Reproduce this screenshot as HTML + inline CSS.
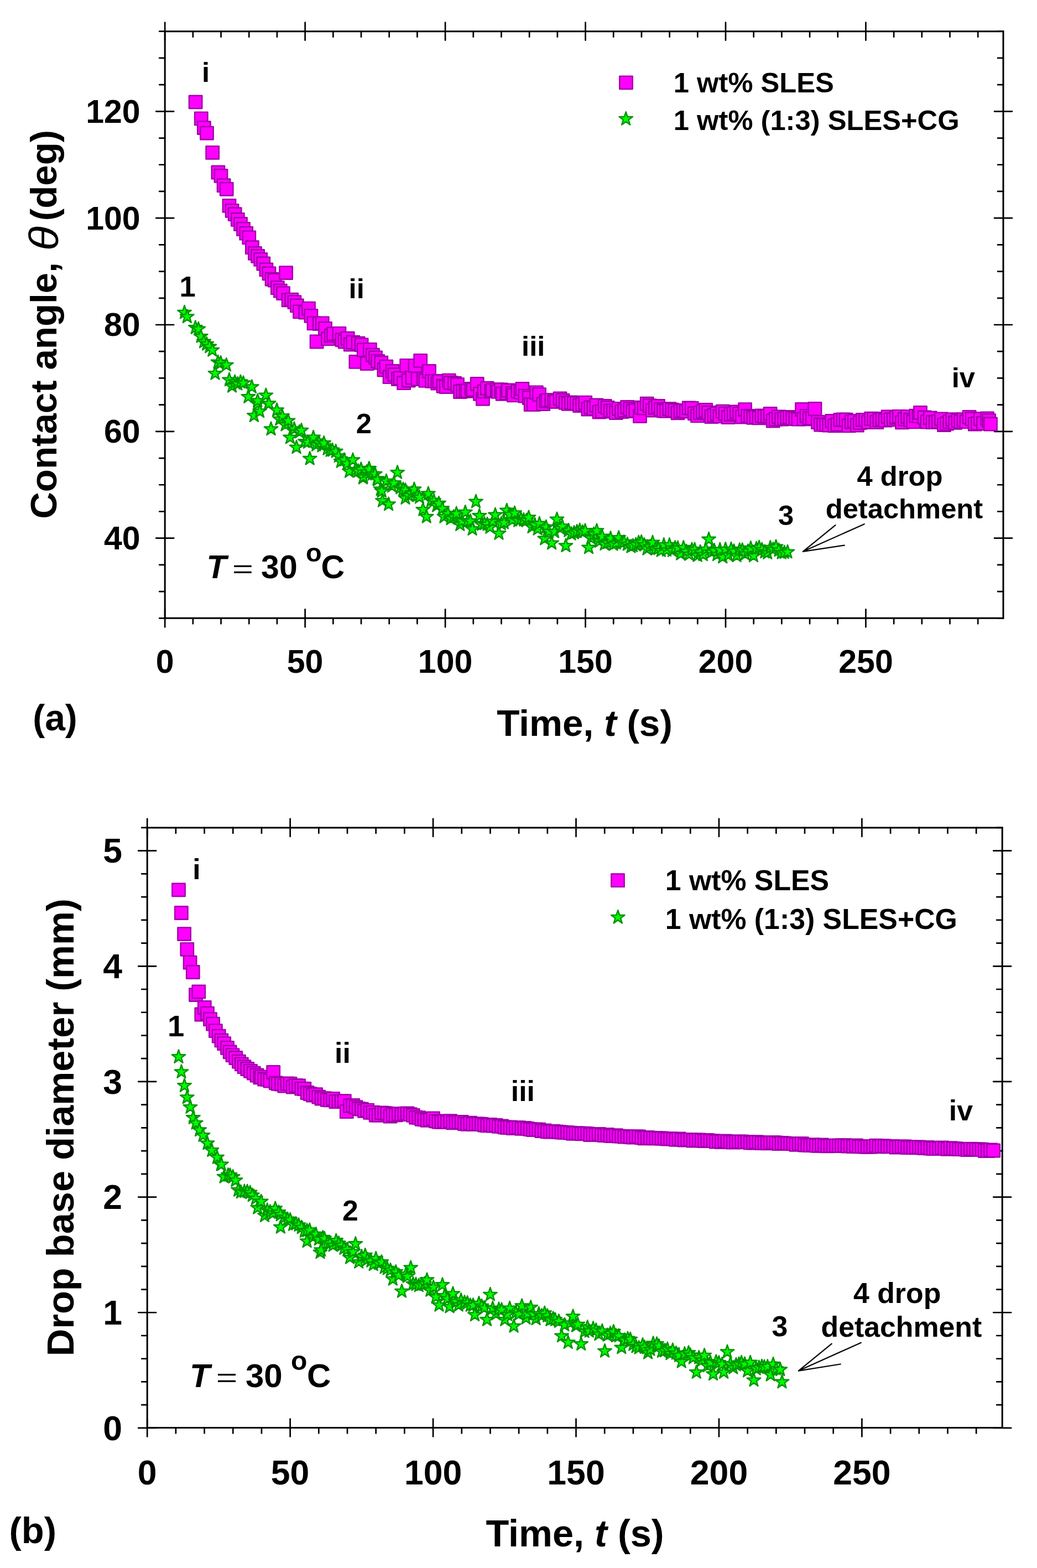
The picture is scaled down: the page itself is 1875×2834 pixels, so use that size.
<!DOCTYPE html>
<html><head><meta charset="utf-8"><title>Contact angle and drop base diameter vs time</title>
<style>html,body{margin:0;padding:0;background:#fff;} svg{display:block;}</style></head>
<body>
<svg width="1875" height="2834" viewBox="0 0 1875 2834">
<rect width="1875" height="2834" fill="#fff"/>
<path d="M298.2,56.7H1814.0V1117.3H298.2Z" fill="none" stroke="#000" stroke-width="3.0" stroke-linejoin="miter"/>
<path d="M348.89,1117.3v10.0M348.89,56.7v10.0M399.58,1117.3v10.0M399.58,56.7v10.0M450.27,1117.3v10.0M450.27,56.7v10.0M500.96,1117.3v10.0M500.96,56.7v10.0M602.34,1117.3v10.0M602.34,56.7v10.0M653.03,1117.3v10.0M653.03,56.7v10.0M703.72,1117.3v10.0M703.72,56.7v10.0M754.41,1117.3v10.0M754.41,56.7v10.0M855.79,1117.3v10.0M855.79,56.7v10.0M906.48,1117.3v10.0M906.48,56.7v10.0M957.17,1117.3v10.0M957.17,56.7v10.0M1007.86,1117.3v10.0M1007.86,56.7v10.0M1109.24,1117.3v10.0M1109.24,56.7v10.0M1159.93,1117.3v10.0M1159.93,56.7v10.0M1210.62,1117.3v10.0M1210.62,56.7v10.0M1261.31,1117.3v10.0M1261.31,56.7v10.0M1362.69,1117.3v10.0M1362.69,56.7v10.0M1413.38,1117.3v10.0M1413.38,56.7v10.0M1464.07,1117.3v10.0M1464.07,56.7v10.0M1514.76,1117.3v10.0M1514.76,56.7v10.0M1616.14,1117.3v10.0M1616.14,56.7v10.0M1666.83,1117.3v10.0M1666.83,56.7v10.0M1717.52,1117.3v10.0M1717.52,56.7v10.0M1768.21,1117.3v10.0M1768.21,56.7v10.0M298.20,1101.3v32.0M298.20,40.7v32.0M551.65,1101.3v32.0M551.65,40.7v32.0M805.10,1101.3v32.0M805.10,40.7v32.0M1058.55,1101.3v32.0M1058.55,40.7v32.0M1312.00,1101.3v32.0M1312.00,40.7v32.0M1565.45,1101.3v32.0M1565.45,40.7v32.0M298.2,1117.32h-10.0M1814.0,1117.32h-10.0M298.2,1069.11h-10.0M1814.0,1069.11h-10.0M298.2,1020.90h-10.0M1814.0,1020.90h-10.0M298.2,924.48h-10.0M1814.0,924.48h-10.0M298.2,876.27h-10.0M1814.0,876.27h-10.0M298.2,828.06h-10.0M1814.0,828.06h-10.0M298.2,731.64h-10.0M1814.0,731.64h-10.0M298.2,683.43h-10.0M1814.0,683.43h-10.0M298.2,635.22h-10.0M1814.0,635.22h-10.0M298.2,538.80h-10.0M1814.0,538.80h-10.0M298.2,490.59h-10.0M1814.0,490.59h-10.0M298.2,442.38h-10.0M1814.0,442.38h-10.0M298.2,345.96h-10.0M1814.0,345.96h-10.0M298.2,297.75h-10.0M1814.0,297.75h-10.0M298.2,249.54h-10.0M1814.0,249.54h-10.0M298.2,153.12h-10.0M1814.0,153.12h-10.0M298.2,104.91h-10.0M1814.0,104.91h-10.0M298.2,56.70h-10.0M1814.0,56.70h-10.0M282.2,972.69h32.0M1798.0,972.69h32.0M282.2,779.85h32.0M1798.0,779.85h32.0M282.2,587.01h32.0M1798.0,587.01h32.0M282.2,394.17h32.0M1798.0,394.17h32.0M282.2,201.33h32.0M1798.0,201.33h32.0" fill="none" stroke="#000" stroke-width="2.7" stroke-linecap="round"/>
<path d="M266.2,1495.9H1812.2V2580.5H266.2Z" fill="none" stroke="#000" stroke-width="3.0" stroke-linejoin="miter"/>
<path d="M317.89,2580.5v10.0M317.89,1495.9v10.0M369.58,2580.5v10.0M369.58,1495.9v10.0M421.26,2580.5v10.0M421.26,1495.9v10.0M472.95,2580.5v10.0M472.95,1495.9v10.0M576.33,2580.5v10.0M576.33,1495.9v10.0M628.02,2580.5v10.0M628.02,1495.9v10.0M679.70,2580.5v10.0M679.70,1495.9v10.0M731.39,2580.5v10.0M731.39,1495.9v10.0M834.77,2580.5v10.0M834.77,1495.9v10.0M886.46,2580.5v10.0M886.46,1495.9v10.0M938.14,2580.5v10.0M938.14,1495.9v10.0M989.83,2580.5v10.0M989.83,1495.9v10.0M1093.21,2580.5v10.0M1093.21,1495.9v10.0M1144.90,2580.5v10.0M1144.90,1495.9v10.0M1196.58,2580.5v10.0M1196.58,1495.9v10.0M1248.27,2580.5v10.0M1248.27,1495.9v10.0M1351.65,2580.5v10.0M1351.65,1495.9v10.0M1403.34,2580.5v10.0M1403.34,1495.9v10.0M1455.02,2580.5v10.0M1455.02,1495.9v10.0M1506.71,2580.5v10.0M1506.71,1495.9v10.0M1610.09,2580.5v10.0M1610.09,1495.9v10.0M1661.78,2580.5v10.0M1661.78,1495.9v10.0M1713.46,2580.5v10.0M1713.46,1495.9v10.0M1765.15,2580.5v10.0M1765.15,1495.9v10.0M266.20,2564.5v32.0M266.20,1479.9v32.0M524.64,2564.5v32.0M524.64,1479.9v32.0M783.08,2564.5v32.0M783.08,1479.9v32.0M1041.52,2564.5v32.0M1041.52,1479.9v32.0M1299.96,2564.5v32.0M1299.96,1479.9v32.0M1558.40,2564.5v32.0M1558.40,1479.9v32.0M266.2,2539.20h-10.0M1812.2,2539.20h-10.0M266.2,2497.47h-10.0M1812.2,2497.47h-10.0M266.2,2455.74h-10.0M1812.2,2455.74h-10.0M266.2,2414.00h-10.0M1812.2,2414.00h-10.0M266.2,2330.54h-10.0M1812.2,2330.54h-10.0M266.2,2288.81h-10.0M1812.2,2288.81h-10.0M266.2,2247.08h-10.0M1812.2,2247.08h-10.0M266.2,2205.34h-10.0M1812.2,2205.34h-10.0M266.2,2121.88h-10.0M1812.2,2121.88h-10.0M266.2,2080.15h-10.0M1812.2,2080.15h-10.0M266.2,2038.42h-10.0M1812.2,2038.42h-10.0M266.2,1996.68h-10.0M1812.2,1996.68h-10.0M266.2,1913.22h-10.0M1812.2,1913.22h-10.0M266.2,1871.49h-10.0M1812.2,1871.49h-10.0M266.2,1829.76h-10.0M1812.2,1829.76h-10.0M266.2,1788.02h-10.0M1812.2,1788.02h-10.0M266.2,1704.56h-10.0M1812.2,1704.56h-10.0M266.2,1662.83h-10.0M1812.2,1662.83h-10.0M266.2,1621.10h-10.0M1812.2,1621.10h-10.0M266.2,1579.36h-10.0M1812.2,1579.36h-10.0M266.2,1495.90h-10.0M1812.2,1495.90h-10.0M250.2,2580.93h32.0M1796.2,2580.93h32.0M250.2,2372.27h32.0M1796.2,2372.27h32.0M250.2,2163.61h32.0M1796.2,2163.61h32.0M250.2,1954.95h32.0M1796.2,1954.95h32.0M250.2,1746.29h32.0M1796.2,1746.29h32.0M250.2,1537.63h32.0M1796.2,1537.63h32.0" fill="none" stroke="#000" stroke-width="2.7" stroke-linecap="round"/>
<g font-family="'Liberation Sans', Arial, sans-serif" font-weight="bold" fill="#000">
<text x="298.2" y="1216.3" font-size="59" text-anchor="middle">0</text>
<text x="551.6" y="1216.3" font-size="59" text-anchor="middle">50</text>
<text x="805.1" y="1216.3" font-size="59" text-anchor="middle">100</text>
<text x="1058.5" y="1216.3" font-size="59" text-anchor="middle">150</text>
<text x="1312.0" y="1216.3" font-size="59" text-anchor="middle">200</text>
<text x="1565.5" y="1216.3" font-size="59" text-anchor="middle">250</text>
<text x="253.6" y="993.1" font-size="59" text-anchor="end">40</text>
<text x="253.6" y="800.2" font-size="59" text-anchor="end">60</text>
<text x="253.6" y="607.4" font-size="59" text-anchor="end">80</text>
<text x="253.6" y="414.6" font-size="59" text-anchor="end">100</text>
<text x="253.6" y="221.7" font-size="59" text-anchor="end">120</text>
<text x="266.2" y="2682.6" font-size="62.5" text-anchor="middle">0</text>
<text x="524.6" y="2682.6" font-size="62.5" text-anchor="middle">50</text>
<text x="783.1" y="2682.6" font-size="62.5" text-anchor="middle">100</text>
<text x="1041.5" y="2682.6" font-size="62.5" text-anchor="middle">150</text>
<text x="1300.0" y="2682.6" font-size="62.5" text-anchor="middle">200</text>
<text x="1558.4" y="2682.6" font-size="62.5" text-anchor="middle">250</text>
<text x="220.9" y="2602.7" font-size="62.5" text-anchor="end">0</text>
<text x="220.9" y="2394.1" font-size="62.5" text-anchor="end">1</text>
<text x="220.9" y="2185.4" font-size="62.5" text-anchor="end">2</text>
<text x="220.9" y="1976.8" font-size="62.5" text-anchor="end">3</text>
<text x="220.9" y="1768.1" font-size="62.5" text-anchor="end">4</text>
<text x="220.9" y="1559.4" font-size="62.5" text-anchor="end">5</text>
<text x="364.9" y="148.3" font-size="50.7">i</text>
<text x="630.6" y="539.0" font-size="50.7">ii</text>
<text x="943.1" y="642.7" font-size="50.7">iii</text>
<text x="1720.7" y="699.8" font-size="50.7">iv</text>
<text x="324.4" y="535.9" font-size="52.6">1</text>
<text x="643.7" y="782.8" font-size="50.7">2</text>
<text x="1407.0" y="949.0" font-size="50.7">3</text>
<text x="1549.6" y="877.6" font-size="50.7">4 drop</text>
<text x="1492.7" y="936.5" font-size="50.7">detachment</text>
<text x="1217.8" y="166.9" font-size="50.7">1 wt% SLES</text>
<text x="1217.8" y="234.7" font-size="50.7">1 wt% (1:3) SLES+CG</text>
<text x="59.2" y="1320.0" font-size="66">(a)</text>
<text x="898.3" y="1329.7" font-size="67.5">Time, <tspan font-style="italic">t</tspan> (s)</text>
<text transform="translate(102,937.8) rotate(-90)" font-size="67.3">Contact angle,</text>
<text transform="translate(104.7,453.3) rotate(-90) scale(1.1,1)" font-size="74" font-style="italic" font-weight="normal">θ</text>
<text transform="translate(102,399.2) rotate(-90)" font-size="67.3">(deg)</text>
<text x="373.5" y="1045" font-size="59" font-style="italic">T</text>
<text transform="translate(419.9,1044.1) scale(0.65,0.44)" font-size="100" font-weight="normal">=</text>
<text x="472.1" y="1045.3" font-size="59">30</text>
<text x="552.9" y="1015.3" font-size="47">o</text>
<text x="580.5" y="1044.6" font-size="59">C</text>
<text x="348.3" y="1588.8" font-size="51.8">i</text>
<text x="302.9" y="1872.7" font-size="54.5">1</text>
<text x="605.1" y="1921.0" font-size="51.8">ii</text>
<text x="619.0" y="2205.8" font-size="51.8">2</text>
<text x="923.8" y="1990.0" font-size="51.8">iii</text>
<text x="1715.8" y="2025.3" font-size="51.8">iv</text>
<text x="1395.6" y="2415.2" font-size="51.8">3</text>
<text x="1543.0" y="2354.9" font-size="51.8">4 drop</text>
<text x="1484.5" y="2415.7" font-size="51.8">detachment</text>
<text x="1202.7" y="1609.4" font-size="51.8">1 wt% SLES</text>
<text x="1202.7" y="1678.8" font-size="51.8">1 wt% (1:3) SLES+CG</text>
<text x="16.5" y="2789.4" font-size="67">(b)</text>
<text x="878.4" y="2794.6" font-size="68.5">Time, <tspan font-style="italic">t</tspan> (s)</text>
<text transform="translate(133.1,2451.3) rotate(-90)" font-size="68.6">Drop base diameter (mm)</text>
<text x="343.0" y="2506.6" font-size="60" font-style="italic">T</text>
<text transform="translate(390.8,2506.0) scale(0.66,0.47)" font-size="100" font-weight="normal">=</text>
<text x="444.0" y="2506.8" font-size="60">30</text>
<text x="526.1" y="2476.2" font-size="48">o</text>
<text x="554.9" y="2506.5" font-size="60">C</text>
</g>
<path d="M1451.8,996.8L1510.5,949.1M1451.8,996.8L1562.7,947.2M1451.8,996.8L1526.8,985.6" stroke="#000" stroke-width="2.2" fill="none" stroke-linecap="round"/>
<path d="M1443.8,2477.6L1503.8,2428.6M1443.8,2477.6L1556.8,2426.7M1443.8,2477.6L1519.8,2465.5" stroke="#000" stroke-width="2.2" fill="none" stroke-linecap="round"/>
<g fill="#ff00ff" stroke="#a000aa" stroke-width="2.4" stroke-linejoin="round">
<rect x="1120.3" y="137.6" width="23.4" height="23.4"/>
<rect x="1105.3" y="1579.5" width="23.4" height="23.4"/>
</g>
<g fill="#00ff00" stroke="#009600" stroke-width="2.5" stroke-linejoin="round">
<polygon points="1131.7,202.3 1134.6,211.1 1143.9,211.1 1136.4,216.6 1139.2,225.5 1131.7,220.0 1124.2,225.5 1127.0,216.6 1119.5,211.1 1128.8,211.1"/>
<polygon points="1117.3,1645.2 1120.2,1654.0 1129.5,1654.0 1122.0,1659.5 1124.8,1668.4 1117.3,1662.9 1109.8,1668.4 1112.6,1659.5 1105.1,1654.0 1114.4,1654.0"/>
</g>
<g fill="#ff00ff" stroke="#a000aa" stroke-width="2.4" stroke-linejoin="round">
<rect x="341.9" y="172.7" width="23.4" height="23.4"/>
<rect x="352.1" y="202.6" width="23.4" height="23.4"/>
<rect x="357.2" y="219.4" width="23.4" height="23.4"/>
<rect x="362.3" y="228.9" width="23.4" height="23.4"/>
<rect x="372.5" y="264.1" width="23.4" height="23.4"/>
<rect x="382.7" y="299.8" width="23.4" height="23.4"/>
<rect x="387.8" y="306.2" width="23.4" height="23.4"/>
<rect x="392.9" y="323.5" width="23.4" height="23.4"/>
<rect x="398.0" y="330.1" width="23.4" height="23.4"/>
<rect x="402.8" y="360.2" width="23.4" height="23.4"/>
<rect x="407.9" y="369.2" width="23.4" height="23.4"/>
<rect x="413.0" y="375.5" width="23.4" height="23.4"/>
<rect x="418.1" y="385.2" width="23.4" height="23.4"/>
<rect x="423.3" y="393.3" width="23.4" height="23.4"/>
<rect x="428.3" y="402.3" width="23.4" height="23.4"/>
<rect x="433.5" y="410.0" width="23.4" height="23.4"/>
<rect x="438.6" y="417.6" width="23.4" height="23.4"/>
<rect x="444.2" y="435.5" width="23.4" height="23.4"/>
<rect x="449.3" y="446.1" width="23.4" height="23.4"/>
<rect x="454.4" y="451.2" width="23.4" height="23.4"/>
<rect x="459.5" y="457.2" width="23.4" height="23.4"/>
<rect x="464.6" y="464.8" width="23.4" height="23.4"/>
<rect x="469.7" y="475.7" width="23.4" height="23.4"/>
<rect x="474.8" y="482.7" width="23.4" height="23.4"/>
<rect x="479.9" y="492.9" width="23.4" height="23.4"/>
<rect x="485.0" y="494.9" width="23.4" height="23.4"/>
<rect x="490.1" y="508.3" width="23.4" height="23.4"/>
<rect x="495.2" y="514.0" width="23.4" height="23.4"/>
<rect x="500.3" y="518.4" width="23.4" height="23.4"/>
<rect x="505.4" y="481.4" width="23.4" height="23.4"/>
<rect x="509.9" y="530.6" width="23.4" height="23.4"/>
<rect x="515.6" y="529.9" width="23.4" height="23.4"/>
<rect x="520.7" y="534.4" width="23.4" height="23.4"/>
<rect x="525.2" y="540.7" width="23.4" height="23.4"/>
<rect x="530.3" y="551.6" width="23.4" height="23.4"/>
<rect x="540.5" y="552.8" width="23.4" height="23.4"/>
<rect x="546.3" y="545.9" width="23.4" height="23.4"/>
<rect x="550.7" y="559.2" width="23.4" height="23.4"/>
<rect x="555.8" y="572.6" width="23.4" height="23.4"/>
<rect x="560.9" y="605.8" width="23.4" height="23.4"/>
<rect x="566.0" y="573.3" width="23.4" height="23.4"/>
<rect x="571.1" y="572.6" width="23.4" height="23.4"/>
<rect x="576.3" y="582.2" width="23.4" height="23.4"/>
<rect x="581.3" y="600.7" width="23.4" height="23.4"/>
<rect x="587.1" y="595.0" width="23.4" height="23.4"/>
<rect x="591.5" y="591.8" width="23.4" height="23.4"/>
<rect x="601.7" y="591.1" width="23.4" height="23.4"/>
<rect x="606.8" y="602.6" width="23.4" height="23.4"/>
<rect x="611.9" y="605.8" width="23.4" height="23.4"/>
<rect x="617.0" y="600.0" width="23.4" height="23.4"/>
<rect x="622.1" y="610.8" width="23.4" height="23.4"/>
<rect x="626.6" y="607.0" width="23.4" height="23.4"/>
<rect x="631.7" y="642.2" width="23.4" height="23.4"/>
<rect x="635.9" y="608.9" width="23.4" height="23.4"/>
<rect x="641.9" y="611.6" width="23.4" height="23.4"/>
<rect x="646.0" y="620.8" width="23.4" height="23.4"/>
<rect x="652.1" y="645.3" width="23.4" height="23.4"/>
<rect x="657.2" y="620.3" width="23.4" height="23.4"/>
<rect x="662.3" y="630.0" width="23.4" height="23.4"/>
<rect x="667.3" y="634.6" width="23.4" height="23.4"/>
<rect x="671.4" y="641.1" width="23.4" height="23.4"/>
<rect x="677.6" y="644.0" width="23.4" height="23.4"/>
<rect x="682.7" y="656.8" width="23.4" height="23.4"/>
<rect x="686.6" y="651.0" width="23.4" height="23.4"/>
<rect x="692.9" y="669.5" width="23.4" height="23.4"/>
<rect x="698.0" y="659.3" width="23.4" height="23.4"/>
<rect x="701.8" y="665.5" width="23.4" height="23.4"/>
<rect x="708.2" y="673.3" width="23.4" height="23.4"/>
<rect x="711.9" y="671.8" width="23.4" height="23.4"/>
<rect x="718.4" y="680.5" width="23.4" height="23.4"/>
<rect x="723.5" y="649.1" width="23.4" height="23.4"/>
<rect x="727.1" y="675.9" width="23.4" height="23.4"/>
<rect x="733.8" y="670.8" width="23.4" height="23.4"/>
<rect x="738.8" y="649.1" width="23.4" height="23.4"/>
<rect x="743.9" y="673.3" width="23.4" height="23.4"/>
<rect x="748.5" y="640.2" width="23.4" height="23.4"/>
<rect x="754.1" y="673.3" width="23.4" height="23.4"/>
<rect x="757.6" y="676.2" width="23.4" height="23.4"/>
<rect x="764.3" y="659.3" width="23.4" height="23.4"/>
<rect x="769.4" y="677.2" width="23.4" height="23.4"/>
<rect x="774.5" y="677.2" width="23.4" height="23.4"/>
<rect x="779.6" y="681.0" width="23.4" height="23.4"/>
<rect x="782.9" y="677.5" width="23.4" height="23.4"/>
<rect x="789.8" y="686.1" width="23.4" height="23.4"/>
<rect x="794.9" y="687.3" width="23.4" height="23.4"/>
<rect x="800.0" y="675.9" width="23.4" height="23.4"/>
<rect x="803.2" y="680.2" width="23.4" height="23.4"/>
<rect x="810.3" y="681.0" width="23.4" height="23.4"/>
<rect x="815.3" y="683.5" width="23.4" height="23.4"/>
<rect x="820.4" y="696.3" width="23.4" height="23.4"/>
<rect x="825.5" y="695.0" width="23.4" height="23.4"/>
<rect x="830.6" y="695.0" width="23.4" height="23.4"/>
<rect x="833.6" y="694.9" width="23.4" height="23.4"/>
<rect x="840.8" y="691.2" width="23.4" height="23.4"/>
<rect x="843.7" y="692.5" width="23.4" height="23.4"/>
<rect x="851.0" y="682.3" width="23.4" height="23.4"/>
<rect x="856.2" y="700.1" width="23.4" height="23.4"/>
<rect x="861.3" y="709.1" width="23.4" height="23.4"/>
<rect x="864.0" y="695.7" width="23.4" height="23.4"/>
<rect x="869.1" y="690.0" width="23.4" height="23.4"/>
<rect x="876.6" y="695.0" width="23.4" height="23.4"/>
<rect x="879.2" y="693.6" width="23.4" height="23.4"/>
<rect x="886.8" y="692.5" width="23.4" height="23.4"/>
<rect x="889.4" y="696.1" width="23.4" height="23.4"/>
<rect x="894.4" y="692.6" width="23.4" height="23.4"/>
<rect x="897.0" y="700.1" width="23.4" height="23.4"/>
<rect x="904.6" y="698.9" width="23.4" height="23.4"/>
<rect x="907.2" y="693.8" width="23.4" height="23.4"/>
<rect x="914.7" y="699.2" width="23.4" height="23.4"/>
<rect x="917.3" y="702.7" width="23.4" height="23.4"/>
<rect x="924.8" y="695.2" width="23.4" height="23.4"/>
<rect x="929.9" y="697.2" width="23.4" height="23.4"/>
<rect x="932.7" y="691.2" width="23.4" height="23.4"/>
<rect x="937.8" y="704.0" width="23.4" height="23.4"/>
<rect x="945.1" y="707.4" width="23.4" height="23.4"/>
<rect x="948.0" y="719.3" width="23.4" height="23.4"/>
<rect x="953.1" y="719.3" width="23.4" height="23.4"/>
<rect x="958.2" y="697.6" width="23.4" height="23.4"/>
<rect x="963.3" y="701.4" width="23.4" height="23.4"/>
<rect x="970.5" y="718.4" width="23.4" height="23.4"/>
<rect x="975.5" y="713.2" width="23.4" height="23.4"/>
<rect x="978.6" y="711.6" width="23.4" height="23.4"/>
<rect x="985.7" y="711.4" width="23.4" height="23.4"/>
<rect x="990.7" y="714.2" width="23.4" height="23.4"/>
<rect x="994.0" y="714.1" width="23.4" height="23.4"/>
<rect x="1000.9" y="708.7" width="23.4" height="23.4"/>
<rect x="1005.9" y="712.0" width="23.4" height="23.4"/>
<rect x="1011.0" y="716.2" width="23.4" height="23.4"/>
<rect x="1016.1" y="718.2" width="23.4" height="23.4"/>
<rect x="1021.1" y="715.7" width="23.4" height="23.4"/>
<rect x="1026.2" y="716.8" width="23.4" height="23.4"/>
<rect x="1031.3" y="717.5" width="23.4" height="23.4"/>
<rect x="1036.4" y="721.3" width="23.4" height="23.4"/>
<rect x="1041.4" y="719.3" width="23.4" height="23.4"/>
<rect x="1046.5" y="716.0" width="23.4" height="23.4"/>
<rect x="1051.6" y="727.8" width="23.4" height="23.4"/>
<rect x="1056.6" y="724.4" width="23.4" height="23.4"/>
<rect x="1061.7" y="726.4" width="23.4" height="23.4"/>
<rect x="1066.8" y="720.8" width="23.4" height="23.4"/>
<rect x="1071.8" y="732.9" width="23.4" height="23.4"/>
<rect x="1076.9" y="731.8" width="23.4" height="23.4"/>
<rect x="1082.0" y="722.1" width="23.4" height="23.4"/>
<rect x="1087.0" y="725.2" width="23.4" height="23.4"/>
<rect x="1092.1" y="730.9" width="23.4" height="23.4"/>
<rect x="1097.2" y="730.9" width="23.4" height="23.4"/>
<rect x="1102.2" y="734.3" width="23.4" height="23.4"/>
<rect x="1107.3" y="727.1" width="23.4" height="23.4"/>
<rect x="1112.4" y="732.4" width="23.4" height="23.4"/>
<rect x="1117.5" y="729.7" width="23.4" height="23.4"/>
<rect x="1122.5" y="724.2" width="23.4" height="23.4"/>
<rect x="1127.6" y="727.8" width="23.4" height="23.4"/>
<rect x="1132.7" y="731.5" width="23.4" height="23.4"/>
<rect x="1137.7" y="730.6" width="23.4" height="23.4"/>
<rect x="1145.3" y="740.3" width="23.4" height="23.4"/>
<rect x="1147.9" y="725.0" width="23.4" height="23.4"/>
<rect x="1152.9" y="725.8" width="23.4" height="23.4"/>
<rect x="1158.0" y="718.0" width="23.4" height="23.4"/>
<rect x="1163.1" y="721.5" width="23.4" height="23.4"/>
<rect x="1168.1" y="729.8" width="23.4" height="23.4"/>
<rect x="1173.2" y="725.1" width="23.4" height="23.4"/>
<rect x="1178.3" y="722.3" width="23.4" height="23.4"/>
<rect x="1183.4" y="728.1" width="23.4" height="23.4"/>
<rect x="1188.4" y="730.8" width="23.4" height="23.4"/>
<rect x="1193.5" y="731.0" width="23.4" height="23.4"/>
<rect x="1198.6" y="727.4" width="23.4" height="23.4"/>
<rect x="1203.6" y="728.9" width="23.4" height="23.4"/>
<rect x="1208.7" y="730.4" width="23.4" height="23.4"/>
<rect x="1213.8" y="734.6" width="23.4" height="23.4"/>
<rect x="1218.8" y="731.4" width="23.4" height="23.4"/>
<rect x="1223.9" y="730.1" width="23.4" height="23.4"/>
<rect x="1229.0" y="731.8" width="23.4" height="23.4"/>
<rect x="1234.0" y="725.7" width="23.4" height="23.4"/>
<rect x="1239.1" y="726.1" width="23.4" height="23.4"/>
<rect x="1244.2" y="735.6" width="23.4" height="23.4"/>
<rect x="1249.3" y="739.7" width="23.4" height="23.4"/>
<rect x="1254.3" y="734.4" width="23.4" height="23.4"/>
<rect x="1259.4" y="731.9" width="23.4" height="23.4"/>
<rect x="1264.5" y="729.2" width="23.4" height="23.4"/>
<rect x="1269.5" y="734.2" width="23.4" height="23.4"/>
<rect x="1274.6" y="741.3" width="23.4" height="23.4"/>
<rect x="1279.7" y="738.7" width="23.4" height="23.4"/>
<rect x="1284.7" y="735.9" width="23.4" height="23.4"/>
<rect x="1289.8" y="740.6" width="23.4" height="23.4"/>
<rect x="1294.9" y="732.0" width="23.4" height="23.4"/>
<rect x="1299.9" y="736.1" width="23.4" height="23.4"/>
<rect x="1305.0" y="742.4" width="23.4" height="23.4"/>
<rect x="1310.1" y="737.4" width="23.4" height="23.4"/>
<rect x="1315.1" y="735.5" width="23.4" height="23.4"/>
<rect x="1320.2" y="732.7" width="23.4" height="23.4"/>
<rect x="1325.3" y="736.4" width="23.4" height="23.4"/>
<rect x="1330.4" y="741.9" width="23.4" height="23.4"/>
<rect x="1335.4" y="728.4" width="23.4" height="23.4"/>
<rect x="1340.5" y="740.1" width="23.4" height="23.4"/>
<rect x="1345.6" y="741.4" width="23.4" height="23.4"/>
<rect x="1350.6" y="743.2" width="23.4" height="23.4"/>
<rect x="1355.7" y="741.9" width="23.4" height="23.4"/>
<rect x="1360.8" y="743.6" width="23.4" height="23.4"/>
<rect x="1365.8" y="739.6" width="23.4" height="23.4"/>
<rect x="1370.9" y="740.8" width="23.4" height="23.4"/>
<rect x="1376.0" y="740.1" width="23.4" height="23.4"/>
<rect x="1381.0" y="736.2" width="23.4" height="23.4"/>
<rect x="1386.1" y="748.8" width="23.4" height="23.4"/>
<rect x="1391.2" y="745.8" width="23.4" height="23.4"/>
<rect x="1396.3" y="741.8" width="23.4" height="23.4"/>
<rect x="1401.3" y="745.9" width="23.4" height="23.4"/>
<rect x="1406.4" y="745.1" width="23.4" height="23.4"/>
<rect x="1411.5" y="742.8" width="23.4" height="23.4"/>
<rect x="1416.5" y="742.1" width="23.4" height="23.4"/>
<rect x="1421.6" y="744.2" width="23.4" height="23.4"/>
<rect x="1426.7" y="745.3" width="23.4" height="23.4"/>
<rect x="1431.7" y="746.0" width="23.4" height="23.4"/>
<rect x="1438.3" y="728.3" width="23.4" height="23.4"/>
<rect x="1441.9" y="745.6" width="23.4" height="23.4"/>
<rect x="1446.9" y="740.4" width="23.4" height="23.4"/>
<rect x="1452.0" y="744.1" width="23.4" height="23.4"/>
<rect x="1457.1" y="744.2" width="23.4" height="23.4"/>
<rect x="1461.8" y="727.3" width="23.4" height="23.4"/>
<rect x="1467.2" y="751.3" width="23.4" height="23.4"/>
<rect x="1472.3" y="755.8" width="23.4" height="23.4"/>
<rect x="1477.4" y="755.7" width="23.4" height="23.4"/>
<rect x="1482.4" y="756.3" width="23.4" height="23.4"/>
<rect x="1487.5" y="756.9" width="23.4" height="23.4"/>
<rect x="1492.6" y="749.2" width="23.4" height="23.4"/>
<rect x="1497.6" y="757.6" width="23.4" height="23.4"/>
<rect x="1502.7" y="755.4" width="23.4" height="23.4"/>
<rect x="1507.8" y="747.3" width="23.4" height="23.4"/>
<rect x="1512.8" y="746.6" width="23.4" height="23.4"/>
<rect x="1517.9" y="747.0" width="23.4" height="23.4"/>
<rect x="1523.0" y="757.7" width="23.4" height="23.4"/>
<rect x="1528.0" y="750.9" width="23.4" height="23.4"/>
<rect x="1533.1" y="749.3" width="23.4" height="23.4"/>
<rect x="1538.2" y="756.9" width="23.4" height="23.4"/>
<rect x="1543.3" y="752.4" width="23.4" height="23.4"/>
<rect x="1548.3" y="747.3" width="23.4" height="23.4"/>
<rect x="1553.4" y="747.4" width="23.4" height="23.4"/>
<rect x="1558.5" y="751.3" width="23.4" height="23.4"/>
<rect x="1563.5" y="745.0" width="23.4" height="23.4"/>
<rect x="1568.6" y="745.3" width="23.4" height="23.4"/>
<rect x="1573.7" y="751.3" width="23.4" height="23.4"/>
<rect x="1578.7" y="747.7" width="23.4" height="23.4"/>
<rect x="1583.8" y="745.8" width="23.4" height="23.4"/>
<rect x="1588.9" y="747.9" width="23.4" height="23.4"/>
<rect x="1593.9" y="741.6" width="23.4" height="23.4"/>
<rect x="1599.0" y="746.6" width="23.4" height="23.4"/>
<rect x="1604.1" y="746.6" width="23.4" height="23.4"/>
<rect x="1609.1" y="742.8" width="23.4" height="23.4"/>
<rect x="1614.2" y="741.1" width="23.4" height="23.4"/>
<rect x="1619.3" y="751.6" width="23.4" height="23.4"/>
<rect x="1624.4" y="745.6" width="23.4" height="23.4"/>
<rect x="1629.4" y="741.4" width="23.4" height="23.4"/>
<rect x="1634.5" y="747.3" width="23.4" height="23.4"/>
<rect x="1639.6" y="750.7" width="23.4" height="23.4"/>
<rect x="1644.6" y="739.9" width="23.4" height="23.4"/>
<rect x="1649.7" y="740.2" width="23.4" height="23.4"/>
<rect x="1652.3" y="734.3" width="23.4" height="23.4"/>
<rect x="1659.8" y="742.7" width="23.4" height="23.4"/>
<rect x="1664.9" y="751.0" width="23.4" height="23.4"/>
<rect x="1670.0" y="743.6" width="23.4" height="23.4"/>
<rect x="1675.0" y="751.5" width="23.4" height="23.4"/>
<rect x="1680.1" y="751.5" width="23.4" height="23.4"/>
<rect x="1685.2" y="750.0" width="23.4" height="23.4"/>
<rect x="1690.3" y="745.6" width="23.4" height="23.4"/>
<rect x="1695.3" y="756.4" width="23.4" height="23.4"/>
<rect x="1700.4" y="754.0" width="23.4" height="23.4"/>
<rect x="1705.5" y="750.3" width="23.4" height="23.4"/>
<rect x="1710.5" y="746.4" width="23.4" height="23.4"/>
<rect x="1715.6" y="752.2" width="23.4" height="23.4"/>
<rect x="1720.7" y="748.3" width="23.4" height="23.4"/>
<rect x="1725.7" y="750.4" width="23.4" height="23.4"/>
<rect x="1730.8" y="746.5" width="23.4" height="23.4"/>
<rect x="1735.9" y="750.5" width="23.4" height="23.4"/>
<rect x="1740.9" y="742.1" width="23.4" height="23.4"/>
<rect x="1746.0" y="745.5" width="23.4" height="23.4"/>
<rect x="1751.1" y="754.9" width="23.4" height="23.4"/>
<rect x="1756.2" y="753.6" width="23.4" height="23.4"/>
<rect x="1761.2" y="745.6" width="23.4" height="23.4"/>
<rect x="1766.3" y="753.3" width="23.4" height="23.4"/>
<rect x="1773.3" y="744.8" width="23.4" height="23.4"/>
<rect x="1776.4" y="748.4" width="23.4" height="23.4"/>
<rect x="1779.3" y="754.8" width="23.4" height="23.4"/>
</g>
<g fill="#00ff00" stroke="#009600" stroke-width="2.5" stroke-linejoin="round">
<polygon points="333.5,552.1 336.4,560.9 345.7,560.9 338.2,566.4 341.0,575.3 333.5,569.8 326.0,575.3 328.8,566.4 321.3,560.9 330.6,560.9"/>
<polygon points="338.3,559.7 341.2,568.5 350.5,568.5 343.0,574.0 345.8,582.9 338.3,577.4 330.8,582.9 333.6,574.0 326.1,568.5 335.4,568.5"/>
<polygon points="353.3,579.5 356.2,588.3 365.5,588.3 358.0,593.8 360.8,602.7 353.3,597.2 345.8,602.7 348.6,593.8 341.1,588.3 350.4,588.3"/>
<polygon points="358.8,582.0 361.7,590.8 371.0,590.8 363.5,596.3 366.3,605.2 358.8,599.7 351.3,605.2 354.1,596.3 346.6,590.8 355.9,590.8"/>
<polygon points="363.2,595.4 366.1,604.2 375.4,604.2 367.9,609.7 370.7,618.6 363.2,613.1 355.7,618.6 358.5,609.7 351.0,604.2 360.3,604.2"/>
<polygon points="368.6,605.0 371.5,613.8 380.8,613.8 373.3,619.3 376.1,628.2 368.6,622.7 361.1,628.2 363.9,619.3 356.4,613.8 365.7,613.8"/>
<polygon points="373.7,609.2 376.6,618.0 385.9,618.0 378.4,623.5 381.2,632.4 373.7,626.9 366.2,632.4 369.0,623.5 361.5,618.0 370.8,618.0"/>
<polygon points="378.8,613.9 381.7,622.7 391.0,622.7 383.5,628.2 386.3,637.1 378.8,631.6 371.3,637.1 374.1,628.2 366.6,622.7 375.9,622.7"/>
<polygon points="383.9,620.3 386.8,629.1 396.1,629.1 388.6,634.6 391.4,643.5 383.9,638.0 376.4,643.5 379.2,634.6 371.7,629.1 381.0,629.1"/>
<polygon points="389.0,662.4 391.9,671.2 401.2,671.2 393.7,676.7 396.5,685.6 389.0,680.1 381.5,685.6 384.3,676.7 376.8,671.2 386.1,671.2"/>
<polygon points="394.1,642.0 397.0,650.8 406.3,650.8 398.8,656.3 401.6,665.2 394.1,659.7 386.6,665.2 389.4,656.3 381.9,650.8 391.2,650.8"/>
<polygon points="399.2,643.3 402.1,652.1 411.4,652.1 403.9,657.6 406.7,666.5 399.2,661.0 391.7,666.5 394.5,657.6 387.0,652.1 396.3,652.1"/>
<polygon points="409.4,647.1 412.3,655.9 421.6,655.9 414.1,661.4 416.9,670.3 409.4,664.8 401.9,670.3 404.7,661.4 397.2,655.9 406.5,655.9"/>
<polygon points="414.5,673.9 417.4,682.7 426.7,682.7 419.2,688.2 422.0,697.1 414.5,691.6 407.0,697.1 409.8,688.2 402.3,682.7 411.6,682.7"/>
<polygon points="419.6,685.2 422.5,694.0 431.8,694.0 424.3,699.5 427.1,708.4 419.6,702.9 412.1,708.4 414.9,699.5 407.4,694.0 416.7,694.0"/>
<polygon points="424.7,677.7 427.6,686.5 436.9,686.5 429.4,692.0 432.2,700.9 424.7,695.4 417.2,700.9 420.0,692.0 412.5,686.5 421.8,686.5"/>
<polygon points="429.8,681.2 432.7,690.0 442.0,690.0 434.5,695.5 437.3,704.4 429.8,698.9 422.3,704.4 425.1,695.5 417.6,690.0 426.9,690.0"/>
<polygon points="434.9,677.7 437.8,686.5 447.1,686.5 439.6,692.0 442.4,700.9 434.9,695.4 427.4,700.9 430.2,692.0 422.7,686.5 432.0,686.5"/>
<polygon points="440.0,679.6 442.9,688.4 452.2,688.4 444.7,693.9 447.5,702.8 440.0,697.3 432.5,702.8 435.3,693.9 427.8,688.4 437.1,688.4"/>
<polygon points="448.9,704.5 451.8,713.3 461.1,713.3 453.6,718.8 456.4,727.7 448.9,722.2 441.4,727.7 444.2,718.8 436.7,713.3 446.0,713.3"/>
<polygon points="455.3,686.6 458.2,695.4 467.5,695.4 460.0,700.9 462.8,709.8 455.3,704.3 447.8,709.8 450.6,700.9 443.1,695.4 452.4,695.4"/>
<polygon points="459.4,738.5 462.3,747.3 471.6,747.3 464.1,752.8 466.9,761.7 459.4,756.2 451.9,761.7 454.7,752.8 447.2,747.3 456.5,747.3"/>
<polygon points="465.5,717.2 468.4,726.0 477.7,726.0 470.2,731.5 473.0,740.4 465.5,734.9 458.0,740.4 460.8,731.5 453.3,726.0 462.6,726.0"/>
<polygon points="465.8,711.7 468.7,720.5 478.0,720.5 470.5,726.0 473.3,734.9 465.8,729.4 458.3,734.9 461.1,726.0 453.6,720.5 462.9,720.5"/>
<polygon points="469.6,730.8 472.5,739.6 481.8,739.6 474.3,745.1 477.1,754.0 469.6,748.5 462.1,754.0 464.9,745.1 457.4,739.6 466.7,739.6"/>
<polygon points="480.8,701.9 483.7,710.7 493.0,710.7 485.5,716.2 488.3,725.1 480.8,719.6 473.3,725.1 476.1,716.2 468.6,710.7 477.9,710.7"/>
<polygon points="485.3,717.2 488.2,726.0 497.5,726.0 490.0,731.5 492.8,740.4 485.3,734.9 477.8,740.4 480.6,731.5 473.1,726.0 482.4,726.0"/>
<polygon points="486.2,716.8 489.1,725.6 498.4,725.6 490.9,731.1 493.7,740.0 486.2,734.5 478.7,740.0 481.5,731.1 474.0,725.6 483.3,725.6"/>
<polygon points="490.0,762.7 492.9,771.5 502.2,771.5 494.7,777.0 497.5,785.9 490.0,780.4 482.5,785.9 485.3,777.0 477.8,771.5 487.1,771.5"/>
<polygon points="500.6,728.7 503.5,737.5 512.8,737.5 505.3,743.0 508.1,751.9 500.6,746.4 493.1,751.9 495.9,743.0 488.4,737.5 497.7,737.5"/>
<polygon points="505.8,744.9 508.7,753.7 518.0,753.7 510.5,759.2 513.4,768.0 505.8,762.6 498.3,768.0 501.2,759.2 493.7,753.7 503.0,753.7"/>
<polygon points="510.5,739.8 513.4,748.6 522.7,748.6 515.2,754.1 518.0,763.0 510.5,757.5 503.0,763.0 505.8,754.1 498.3,748.6 507.6,748.6"/>
<polygon points="516.0,755.1 518.9,763.9 528.2,763.9 520.6,769.4 523.5,778.3 516.0,772.8 508.5,778.3 511.3,769.4 503.8,763.9 513.1,763.9"/>
<polygon points="521.1,747.8 523.9,756.7 533.2,756.7 525.7,762.1 528.6,771.0 521.1,765.5 513.5,771.0 516.4,762.1 508.9,756.7 518.2,756.7"/>
<polygon points="524.5,778.0 527.4,786.8 536.7,786.8 529.2,792.3 532.0,801.2 524.5,795.7 517.0,801.2 519.8,792.3 512.3,786.8 521.6,786.8"/>
<polygon points="532.0,762.7 534.9,771.5 544.2,771.5 536.7,777.0 539.5,785.9 532.0,780.4 524.5,785.9 527.3,777.0 519.8,771.5 529.1,771.5"/>
<polygon points="536.0,795.9 538.9,804.7 548.2,804.7 540.7,810.2 543.5,819.1 536.0,813.6 528.5,819.1 531.3,810.2 523.8,804.7 533.1,804.7"/>
<polygon points="541.3,768.0 544.2,776.9 553.5,776.9 546.0,782.3 548.9,791.2 541.3,785.7 533.8,791.2 536.7,782.3 529.2,776.9 538.5,776.9"/>
<polygon points="545.0,765.2 547.9,774.0 557.2,774.0 549.7,779.5 552.5,788.4 545.0,782.9 537.5,788.4 540.3,779.5 532.8,774.0 542.1,774.0"/>
<polygon points="551.5,785.5 554.3,794.3 563.6,794.3 556.1,799.8 559.0,808.6 551.5,803.2 543.9,808.6 546.8,799.8 539.3,794.3 548.6,794.3"/>
<polygon points="556.5,786.5 559.4,795.4 568.7,795.4 561.2,800.8 564.1,809.7 556.5,804.2 549.0,809.7 551.9,800.8 544.4,795.4 553.7,795.4"/>
<polygon points="560.2,816.2 563.1,825.0 572.4,825.0 564.9,830.5 567.7,839.4 560.2,833.9 552.7,839.4 555.5,830.5 548.0,825.0 557.3,825.0"/>
<polygon points="566.6,778.0 569.5,786.8 578.8,786.8 571.3,792.3 574.1,801.2 566.6,795.7 559.1,801.2 561.9,792.3 554.4,786.8 563.7,786.8"/>
<polygon points="571.7,791.4 574.6,800.3 583.9,800.3 576.4,805.7 579.3,814.6 571.7,809.1 564.2,814.6 567.1,805.7 559.6,800.3 568.9,800.3"/>
<polygon points="576.8,787.3 579.7,796.1 589.0,796.1 581.5,801.6 584.3,810.4 576.8,805.0 569.3,810.4 572.2,801.6 564.6,796.1 573.9,796.1"/>
<polygon points="581.9,793.0 584.8,801.9 594.1,801.9 586.5,807.3 589.4,816.2 581.9,810.7 574.4,816.2 577.2,807.3 569.7,801.9 579.0,801.9"/>
<polygon points="585.7,788.2 588.6,797.0 597.9,797.0 590.4,802.5 593.2,811.4 585.7,805.9 578.2,811.4 581.0,802.5 573.5,797.0 582.8,797.0"/>
<polygon points="592.0,798.5 594.9,807.3 604.2,807.3 596.7,812.8 599.5,821.6 592.0,816.2 584.5,821.6 587.4,812.8 579.8,807.3 589.1,807.3"/>
<polygon points="597.1,801.5 600.0,810.3 609.3,810.3 601.7,815.8 604.6,824.6 597.1,819.2 589.6,824.6 592.4,815.8 584.9,810.3 594.2,810.3"/>
<polygon points="601.0,801.0 603.9,809.8 613.2,809.8 605.7,815.3 608.5,824.2 601.0,818.7 593.5,824.2 596.3,815.3 588.8,809.8 598.1,809.8"/>
<polygon points="607.2,803.2 610.1,812.1 619.4,812.1 611.9,817.5 614.7,826.4 607.2,820.9 599.7,826.4 602.6,817.5 595.1,812.1 604.4,812.1"/>
<polygon points="612.3,811.6 615.2,820.5 624.5,820.5 616.9,825.9 619.8,834.8 612.3,829.3 604.8,834.8 607.6,825.9 600.1,820.5 609.4,820.5"/>
<polygon points="616.3,821.4 619.2,830.2 628.5,830.2 621.0,835.7 623.8,844.6 616.3,839.1 608.8,844.6 611.6,835.7 604.1,830.2 613.4,830.2"/>
<polygon points="622.4,818.6 625.3,827.4 634.6,827.4 627.1,832.9 630.0,841.7 622.4,836.3 614.9,841.7 617.8,832.9 610.3,827.4 619.6,827.4"/>
<polygon points="627.5,825.5 630.4,834.4 639.7,834.4 632.2,839.9 635.0,848.7 627.5,843.2 620.0,848.7 622.9,839.9 615.3,834.4 624.6,834.4"/>
<polygon points="631.6,839.2 634.5,848.0 643.8,848.0 636.3,853.5 639.1,862.4 631.6,856.9 624.1,862.4 626.9,853.5 619.4,848.0 628.7,848.0"/>
<polygon points="638.0,818.8 640.9,827.6 650.2,827.6 642.7,833.1 645.5,842.0 638.0,836.5 630.5,842.0 633.3,833.1 625.8,827.6 635.1,827.6"/>
<polygon points="642.7,836.2 645.6,845.1 654.9,845.1 647.4,850.6 650.2,859.4 642.7,853.9 635.2,859.4 638.1,850.6 630.5,845.1 639.8,845.1"/>
<polygon points="647.8,838.6 650.7,847.5 660.0,847.5 652.4,852.9 655.3,861.8 647.8,856.3 640.3,861.8 643.1,852.9 635.6,847.5 644.9,847.5"/>
<polygon points="652.8,835.6 655.7,844.4 665.0,844.4 657.5,849.9 660.4,858.7 652.8,853.3 645.3,858.7 648.2,849.9 640.7,844.4 650.0,844.4"/>
<polygon points="656.4,851.0 659.3,859.8 668.6,859.8 661.1,865.3 663.9,874.2 656.4,868.7 648.9,874.2 651.7,865.3 644.2,859.8 653.5,859.8"/>
<polygon points="657.0,849.4 659.9,858.2 669.2,858.2 661.7,863.7 664.5,872.6 657.0,867.1 649.5,872.6 652.3,863.7 644.8,858.2 654.1,858.2"/>
<polygon points="663.0,840.3 665.9,849.2 675.2,849.2 667.6,854.6 670.5,863.5 663.0,858.0 655.5,863.5 658.3,854.6 650.8,849.2 660.1,849.2"/>
<polygon points="667.3,834.2 670.2,843.0 679.5,843.0 672.0,848.5 674.8,857.4 667.3,851.9 659.8,857.4 662.6,848.5 655.1,843.0 664.4,843.0"/>
<polygon points="667.5,835.0 670.4,843.8 679.7,843.8 672.2,849.3 675.0,858.2 667.5,852.7 660.0,858.2 662.8,849.3 655.3,843.8 664.6,843.8"/>
<polygon points="673.1,844.3 676.0,853.1 685.3,853.1 677.8,858.6 680.6,867.4 673.1,861.9 665.6,867.4 668.5,858.6 660.9,853.1 670.2,853.1"/>
<polygon points="678.2,844.1 681.1,852.9 690.4,852.9 682.8,858.4 685.7,867.2 678.2,861.8 670.7,867.2 673.5,858.4 666.0,852.9 675.3,852.9"/>
<polygon points="682.0,852.6 684.9,861.4 694.2,861.4 686.7,866.9 689.5,875.8 682.0,870.3 674.5,875.8 677.3,866.9 669.8,861.4 679.1,861.4"/>
<polygon points="682.7,854.5 685.6,863.3 694.9,863.3 687.4,868.8 690.2,877.7 682.7,872.2 675.2,877.7 678.0,868.8 670.5,863.3 679.8,863.3"/>
<polygon points="688.3,871.7 691.2,880.5 700.5,880.5 693.0,886.0 695.8,894.9 688.3,889.4 680.8,894.9 683.6,886.0 676.1,880.5 685.4,880.5"/>
<polygon points="690.3,875.0 693.2,883.8 702.5,883.8 695.0,889.3 697.8,898.2 690.3,892.7 682.8,898.2 685.6,889.3 678.1,883.8 687.4,883.8"/>
<polygon points="691.5,892.4 694.4,901.2 703.7,901.2 696.2,906.7 699.0,915.6 691.5,910.1 684.0,915.6 686.8,906.7 679.3,901.2 688.6,901.2"/>
<polygon points="698.5,857.0 701.3,865.9 710.6,865.9 703.1,871.3 706.0,880.2 698.5,874.7 690.9,880.2 693.8,871.3 686.3,865.9 695.6,865.9"/>
<polygon points="702.6,898.8 705.5,907.6 714.8,907.6 707.3,913.1 710.1,922.0 702.6,916.5 695.1,922.0 697.9,913.1 690.4,907.6 699.7,907.6"/>
<polygon points="708.6,865.9 711.5,874.7 720.8,874.7 713.3,880.2 716.1,889.1 708.6,883.6 701.1,889.1 704.0,880.2 696.4,874.7 705.7,874.7"/>
<polygon points="712.2,860.5 715.1,869.3 724.4,869.3 716.9,874.8 719.7,883.7 712.2,878.2 704.7,883.7 707.5,874.8 700.0,869.3 709.3,869.3"/>
<polygon points="718.6,841.4 721.5,850.2 730.8,850.2 723.3,855.7 726.1,864.6 718.6,859.1 711.1,864.6 713.9,855.7 706.4,850.2 715.7,850.2"/>
<polygon points="723.8,869.0 726.7,877.8 736.0,877.8 728.5,883.3 731.3,892.1 723.8,886.7 716.3,892.1 719.2,883.3 711.6,877.8 720.9,877.8"/>
<polygon points="728.9,871.8 731.8,880.7 741.1,880.7 733.5,886.1 736.4,895.0 728.9,889.5 721.4,895.0 724.2,886.1 716.7,880.7 726.0,880.7"/>
<polygon points="733.0,873.2 735.9,882.0 745.2,882.0 737.7,887.5 740.5,896.4 733.0,890.9 725.5,896.4 728.3,887.5 720.8,882.0 730.1,882.0"/>
<polygon points="733.0,887.6 735.9,896.4 745.2,896.4 737.7,901.9 740.5,910.8 733.0,905.3 725.5,910.8 728.3,901.9 720.8,896.4 730.1,896.4"/>
<polygon points="739.0,882.8 741.9,891.7 751.2,891.7 743.7,897.2 746.5,906.0 739.0,900.5 731.5,906.0 734.4,897.2 726.8,891.7 736.1,891.7"/>
<polygon points="744.1,878.8 747.0,887.7 756.3,887.7 748.7,893.2 751.6,902.0 744.1,896.5 736.6,902.0 739.4,893.2 731.9,887.7 741.2,887.7"/>
<polygon points="748.9,871.7 751.8,880.5 761.1,880.5 753.6,886.0 756.4,894.9 748.9,889.4 741.4,894.9 744.2,886.0 736.7,880.5 746.0,880.5"/>
<polygon points="754.2,883.1 757.1,892.0 766.4,892.0 758.9,897.4 761.8,906.3 754.2,900.8 746.7,906.3 749.6,897.4 742.1,892.0 751.4,892.0"/>
<polygon points="758.4,886.1 761.3,894.9 770.6,894.9 763.1,900.4 765.9,909.3 758.4,903.8 750.9,909.3 753.7,900.4 746.2,894.9 755.5,894.9"/>
<polygon points="764.8,908.4 767.7,917.2 777.0,917.2 769.5,922.7 772.3,931.6 764.8,926.1 757.3,931.6 760.1,922.7 752.6,917.2 761.9,917.2"/>
<polygon points="771.2,921.2 774.1,930.0 783.4,930.0 775.9,935.5 778.7,944.4 771.2,938.9 763.7,944.4 766.5,935.5 759.0,930.0 768.3,930.0"/>
<polygon points="774.4,879.7 777.3,888.5 786.6,888.5 779.1,894.0 781.9,902.9 774.4,897.4 766.9,902.9 769.7,894.0 762.2,888.5 771.5,888.5"/>
<polygon points="779.6,891.9 782.4,900.7 791.7,900.7 784.2,906.2 787.1,915.1 779.6,909.6 772.0,915.1 774.9,906.2 767.4,900.7 776.7,900.7"/>
<polygon points="784.6,892.8 787.5,901.6 796.8,901.6 789.3,907.1 792.2,915.9 784.6,910.5 777.1,915.9 780.0,907.1 772.5,901.6 781.8,901.6"/>
<polygon points="789.7,901.3 792.6,910.2 801.9,910.2 794.4,915.7 797.2,924.5 789.7,919.0 782.2,924.5 785.1,915.7 777.5,910.2 786.8,910.2"/>
<polygon points="793.5,897.2 796.4,906.0 805.7,906.0 798.2,911.5 801.0,920.4 793.5,914.9 786.0,920.4 788.8,911.5 781.3,906.0 790.6,906.0"/>
<polygon points="799.8,906.6 802.7,915.5 812.0,915.5 804.5,920.9 807.4,929.8 799.8,924.3 792.3,929.8 795.2,920.9 787.7,915.5 797.0,915.5"/>
<polygon points="803.0,921.2 805.9,930.0 815.2,930.0 807.7,935.5 810.5,944.4 803.0,938.9 795.5,944.4 798.3,935.5 790.8,930.0 800.1,930.0"/>
<polygon points="810.0,915.7 812.9,924.5 822.2,924.5 814.6,930.0 817.5,938.8 810.0,933.4 802.5,938.8 805.3,930.0 797.8,924.5 807.1,924.5"/>
<polygon points="815.1,924.7 817.9,933.5 827.2,933.5 819.7,939.0 822.6,947.9 815.1,942.4 807.5,947.9 810.4,939.0 802.9,933.5 812.2,933.5"/>
<polygon points="820.1,921.5 823.0,930.4 832.3,930.4 824.8,935.8 827.6,944.7 820.1,939.2 812.6,944.7 815.5,935.8 808.0,930.4 817.2,930.4"/>
<polygon points="825.2,915.8 828.1,924.7 837.4,924.7 829.8,930.1 832.7,939.0 825.2,933.5 817.7,939.0 820.5,930.1 813.0,924.7 822.3,924.7"/>
<polygon points="831.8,935.5 834.7,944.3 844.0,944.3 836.5,949.8 839.3,958.7 831.8,953.2 824.3,958.7 827.1,949.8 819.6,944.3 828.9,944.3"/>
<polygon points="835.3,929.0 838.2,937.8 847.5,937.8 840.0,943.3 842.9,952.1 835.3,946.7 827.8,952.1 830.7,943.3 823.2,937.8 832.5,937.8"/>
<polygon points="841.3,913.2 844.2,922.0 853.5,922.0 846.0,927.5 848.8,936.4 841.3,930.9 833.8,936.4 836.6,927.5 829.1,922.0 838.4,922.0"/>
<polygon points="845.5,929.2 848.3,938.1 857.6,938.1 850.1,943.5 853.0,952.4 845.5,946.9 837.9,952.4 840.8,943.5 833.3,938.1 842.6,938.1"/>
<polygon points="850.5,929.1 853.4,938.0 862.7,938.0 855.2,943.4 858.1,952.3 850.5,946.8 843.0,952.3 845.9,943.4 838.4,938.0 847.7,938.0"/>
<polygon points="854.1,943.5 857.0,952.3 866.3,952.3 858.8,957.8 861.6,966.7 854.1,961.2 846.6,966.7 849.4,957.8 841.9,952.3 851.2,952.3"/>
<polygon points="860.5,894.0 863.4,902.8 872.7,902.8 865.2,908.3 868.0,917.2 860.5,911.7 853.0,917.2 855.8,908.3 848.3,902.8 857.6,902.8"/>
<polygon points="866.8,919.5 869.7,928.3 879.0,928.3 871.5,933.8 874.3,942.7 866.8,937.2 859.3,942.7 862.1,933.8 854.6,928.3 863.9,928.3"/>
<polygon points="870.8,935.1 873.7,943.9 883.0,943.9 875.5,949.4 878.3,958.3 870.8,952.8 863.3,958.3 866.2,949.4 858.6,943.9 867.9,943.9"/>
<polygon points="875.9,933.8 878.8,942.6 888.1,942.6 880.5,948.1 883.4,956.9 875.9,951.5 868.4,956.9 871.2,948.1 863.7,942.6 873.0,942.6"/>
<polygon points="881.0,935.0 883.8,943.9 893.1,943.9 885.6,949.3 888.5,958.2 881.0,952.7 873.4,958.2 876.3,949.3 868.8,943.9 878.1,943.9"/>
<polygon points="886.0,940.2 888.9,949.0 898.2,949.0 890.7,954.5 893.5,963.4 886.0,957.9 878.5,963.4 881.3,954.5 873.8,949.0 883.1,949.0"/>
<polygon points="891.1,929.6 894.0,938.5 903.3,938.5 895.7,944.0 898.6,952.8 891.1,947.3 883.6,952.8 886.4,944.0 878.9,938.5 888.2,938.5"/>
<polygon points="895.5,917.9 898.4,926.7 907.7,926.7 900.2,932.2 903.0,941.1 895.5,935.6 888.0,941.1 890.8,932.2 883.3,926.7 892.6,926.7"/>
<polygon points="902.0,951.4 904.9,960.2 914.2,960.2 906.7,965.7 909.5,974.6 902.0,969.1 894.5,974.6 897.3,965.7 889.8,960.2 899.1,960.2"/>
<polygon points="906.3,934.0 909.2,942.8 918.5,942.8 910.9,948.3 913.8,957.1 906.3,951.7 898.8,957.1 901.6,948.3 894.1,942.8 903.4,942.8"/>
<polygon points="911.4,932.0 914.2,940.9 923.5,940.9 916.0,946.3 918.9,955.2 911.4,949.7 903.8,955.2 906.7,946.3 899.2,940.9 908.5,940.9"/>
<polygon points="916.3,910.0 919.2,918.8 928.5,918.8 921.0,924.3 923.8,933.2 916.3,927.7 908.8,933.2 911.6,924.3 904.1,918.8 913.4,918.8"/>
<polygon points="921.5,917.4 924.4,926.2 933.7,926.2 926.2,931.7 929.0,940.5 921.5,935.1 914.0,940.5 916.9,931.7 909.3,926.2 918.6,926.2"/>
<polygon points="926.6,927.1 929.4,935.9 938.7,936.0 931.2,941.4 934.1,950.3 926.6,944.8 919.0,950.3 921.9,941.4 914.4,936.0 923.7,935.9"/>
<polygon points="930.6,914.8 933.5,923.6 942.8,923.6 935.3,929.1 938.1,938.0 930.6,932.5 923.1,938.0 925.9,929.1 918.4,923.6 927.7,923.6"/>
<polygon points="936.7,928.2 939.6,937.1 948.9,937.1 941.4,942.5 944.2,951.4 936.7,945.9 929.2,951.4 932.1,942.5 924.5,937.1 933.8,937.1"/>
<polygon points="941.8,925.3 944.7,934.1 954.0,934.1 946.4,939.6 949.3,948.4 941.8,942.9 934.3,948.4 937.1,939.6 929.6,934.1 938.9,934.1"/>
<polygon points="946.8,927.1 949.7,936.0 959.0,936.0 951.5,941.4 954.4,950.3 946.8,944.8 939.3,950.3 942.2,941.4 934.7,936.0 944.0,936.0"/>
<polygon points="951.9,928.0 954.8,936.9 964.1,936.9 956.6,942.3 959.4,951.2 951.9,945.7 944.4,951.2 947.3,942.3 939.7,936.9 949.0,936.9"/>
<polygon points="956.0,922.7 958.9,931.5 968.2,931.5 960.7,937.0 963.5,945.9 956.0,940.4 948.5,945.9 951.3,937.0 943.8,931.5 953.1,931.5"/>
<polygon points="962.1,939.6 964.9,948.4 974.2,948.4 966.7,953.9 969.6,962.8 962.1,957.3 954.5,962.8 957.4,953.9 949.9,948.4 959.2,948.4"/>
<polygon points="967.1,935.8 970.0,944.6 979.3,944.6 971.8,950.1 974.6,958.9 967.1,953.5 959.6,958.9 962.5,950.1 955.0,944.6 964.3,944.6"/>
<polygon points="972.2,943.3 975.1,952.1 984.4,952.1 976.8,957.6 979.7,966.4 972.2,961.0 964.7,966.4 967.5,957.6 960.0,952.1 969.3,952.1"/>
<polygon points="975.3,933.9 978.2,942.7 987.5,942.7 980.0,948.2 982.8,957.1 975.3,951.6 967.8,957.1 970.6,948.2 963.1,942.7 972.4,942.7"/>
<polygon points="984.8,961.0 987.7,969.8 997.0,969.8 989.5,975.3 992.3,984.2 984.8,978.7 977.3,984.2 980.1,975.3 972.6,969.8 981.9,969.8"/>
<polygon points="987.4,940.0 990.3,948.9 999.6,948.9 992.1,954.3 994.9,963.2 987.4,957.7 979.9,963.2 982.8,954.3 975.2,948.9 984.5,948.9"/>
<polygon points="992.5,947.9 995.3,956.8 1004.6,956.8 997.1,962.3 1000.0,971.1 992.5,965.6 984.9,971.1 987.8,962.3 980.3,956.8 989.6,956.8"/>
<polygon points="997.6,969.0 1000.5,977.8 1009.8,977.8 1002.3,983.3 1005.1,992.2 997.6,986.7 990.1,992.2 992.9,983.3 985.4,977.8 994.7,977.8"/>
<polygon points="1002.6,948.2 1005.5,957.0 1014.8,957.0 1007.3,962.5 1010.1,971.4 1002.6,965.9 995.1,971.4 998.0,962.5 990.4,957.0 999.7,957.0"/>
<polygon points="1007.0,925.9 1009.9,934.7 1019.2,934.7 1011.7,940.2 1014.5,949.1 1007.0,943.6 999.5,949.1 1002.3,940.2 994.8,934.7 1004.1,934.7"/>
<polygon points="1012.7,942.1 1015.6,950.9 1024.9,950.9 1017.4,956.4 1020.3,965.2 1012.7,959.8 1005.2,965.2 1008.1,956.4 1000.6,950.9 1009.9,950.9"/>
<polygon points="1016.7,938.7 1019.6,947.5 1028.9,947.5 1021.4,953.0 1024.2,961.9 1016.7,956.4 1009.2,961.9 1012.0,953.0 1004.5,947.5 1013.8,947.5"/>
<polygon points="1023.0,973.7 1025.9,982.5 1035.2,982.5 1027.7,988.0 1030.5,996.9 1023.0,991.4 1015.5,996.9 1018.3,988.0 1010.8,982.5 1020.1,982.5"/>
<polygon points="1028.0,946.2 1030.8,955.1 1040.1,955.1 1032.6,960.5 1035.5,969.4 1028.0,963.9 1020.4,969.4 1023.3,960.5 1015.8,955.1 1025.1,955.1"/>
<polygon points="1033.0,952.3 1035.9,961.2 1045.2,961.2 1037.7,966.7 1040.5,975.5 1033.0,970.0 1025.5,975.5 1028.4,966.7 1020.8,961.2 1030.1,961.2"/>
<polygon points="1038.1,950.2 1041.0,959.1 1050.3,959.1 1042.7,964.5 1045.6,973.4 1038.1,967.9 1030.6,973.4 1033.4,964.5 1025.9,959.1 1035.2,959.1"/>
<polygon points="1043.2,948.1 1046.0,956.9 1055.3,956.9 1047.8,962.4 1050.7,971.2 1043.2,965.7 1035.6,971.2 1038.5,962.4 1031.0,956.9 1040.3,956.9"/>
<polygon points="1048.2,945.8 1051.1,954.6 1060.4,954.6 1052.9,960.1 1055.8,968.9 1048.2,963.5 1040.7,968.9 1043.6,960.1 1036.1,954.6 1045.4,954.6"/>
<polygon points="1053.3,949.0 1056.2,957.8 1065.5,957.8 1057.9,963.3 1060.8,972.2 1053.3,966.7 1045.8,972.2 1048.6,963.3 1041.1,957.8 1050.4,957.8"/>
<polygon points="1058.0,946.6 1060.9,955.4 1070.2,955.4 1062.7,960.9 1065.5,969.8 1058.0,964.3 1050.5,969.8 1053.3,960.9 1045.8,955.4 1055.1,955.4"/>
<polygon points="1064.5,976.9 1067.4,985.7 1076.7,985.7 1069.2,991.2 1072.0,1000.1 1064.5,994.6 1057.0,1000.1 1059.8,991.2 1052.3,985.7 1061.6,985.7"/>
<polygon points="1068.5,959.7 1071.4,968.5 1080.7,968.5 1073.2,974.0 1076.0,982.9 1068.5,977.4 1061.0,982.9 1063.9,974.0 1056.3,968.5 1065.6,968.5"/>
<polygon points="1073.6,952.8 1076.4,961.6 1085.7,961.6 1078.2,967.1 1081.1,975.9 1073.6,970.5 1066.1,975.9 1068.9,967.1 1061.4,961.6 1070.7,961.6"/>
<polygon points="1079.0,946.6 1081.9,955.4 1091.2,955.4 1083.7,960.9 1086.5,969.8 1079.0,964.3 1071.5,969.8 1074.3,960.9 1066.8,955.4 1076.1,955.4"/>
<polygon points="1083.7,965.6 1086.6,974.4 1095.9,974.4 1088.4,979.9 1091.2,988.8 1083.7,983.3 1076.2,988.8 1079.1,979.9 1071.5,974.4 1080.8,974.4"/>
<polygon points="1088.8,956.9 1091.7,965.7 1101.0,965.7 1093.4,971.2 1096.3,980.0 1088.8,974.5 1081.3,980.0 1084.1,971.2 1076.6,965.7 1085.9,965.7"/>
<polygon points="1093.0,970.6 1095.9,979.4 1105.2,979.4 1097.7,984.9 1100.5,993.8 1093.0,988.3 1085.5,993.8 1088.3,984.9 1080.8,979.4 1090.1,979.4"/>
<polygon points="1098.9,968.2 1101.8,977.0 1111.1,977.0 1103.6,982.5 1106.4,991.3 1098.9,985.9 1091.4,991.3 1094.3,982.5 1086.7,977.0 1096.0,977.0"/>
<polygon points="1104.0,960.3 1106.9,969.2 1116.2,969.2 1108.6,974.7 1111.5,983.5 1104.0,978.0 1096.5,983.5 1099.3,974.7 1091.8,969.2 1101.1,969.2"/>
<polygon points="1109.1,971.3 1111.9,980.2 1121.2,980.2 1113.7,985.6 1116.6,994.5 1109.1,989.0 1101.5,994.5 1104.4,985.6 1096.9,980.2 1106.2,980.2"/>
<polygon points="1114.1,968.8 1117.0,977.7 1126.3,977.7 1118.8,983.1 1121.6,992.0 1114.1,986.5 1106.6,992.0 1109.5,983.1 1102.0,977.7 1111.3,977.7"/>
<polygon points="1118.7,959.4 1121.6,968.2 1130.9,968.2 1123.4,973.7 1126.2,982.6 1118.7,977.1 1111.2,982.6 1114.0,973.7 1106.5,968.2 1115.8,968.2"/>
<polygon points="1124.3,968.3 1127.1,977.2 1136.4,977.2 1128.9,982.6 1131.8,991.5 1124.3,986.0 1116.7,991.5 1119.6,982.6 1112.1,977.2 1121.4,977.2"/>
<polygon points="1128.3,967.4 1131.2,976.2 1140.5,976.2 1133.0,981.7 1135.8,990.6 1128.3,985.1 1120.8,990.6 1123.6,981.7 1116.1,976.2 1125.4,976.2"/>
<polygon points="1134.4,971.1 1137.3,979.9 1146.6,979.9 1139.1,985.4 1141.9,994.2 1134.4,988.8 1126.9,994.2 1129.8,985.4 1122.2,979.9 1131.5,979.9"/>
<polygon points="1141.0,975.2 1143.9,984.0 1153.2,984.0 1145.7,989.5 1148.5,998.4 1141.0,992.9 1133.5,998.4 1136.3,989.5 1128.8,984.0 1138.1,984.0"/>
<polygon points="1144.5,973.6 1147.4,982.5 1156.7,982.5 1149.2,988.0 1152.1,996.8 1144.5,991.3 1137.0,996.8 1139.9,988.0 1132.4,982.5 1141.7,982.5"/>
<polygon points="1149.6,971.8 1152.5,980.6 1161.8,980.6 1154.3,986.1 1157.1,994.9 1149.6,989.5 1142.1,994.9 1145.0,986.1 1137.4,980.6 1146.7,980.6"/>
<polygon points="1154.7,967.9 1157.6,976.7 1166.9,976.7 1159.3,982.2 1162.2,991.0 1154.7,985.6 1147.2,991.0 1150.0,982.2 1142.5,976.7 1151.8,976.7"/>
<polygon points="1159.7,967.0 1162.6,975.9 1171.9,975.9 1164.4,981.3 1167.3,990.2 1159.7,984.7 1152.2,990.2 1155.1,981.3 1147.6,975.9 1156.9,975.9"/>
<polygon points="1164.8,972.3 1167.7,981.1 1177.0,981.1 1169.5,986.6 1172.3,995.4 1164.8,990.0 1157.3,995.4 1160.2,986.6 1152.6,981.1 1161.9,981.1"/>
<polygon points="1169.9,979.3 1172.8,988.1 1182.1,988.1 1174.5,993.6 1177.4,1002.5 1169.9,997.0 1162.4,1002.5 1165.2,993.6 1157.7,988.1 1167.0,988.1"/>
<polygon points="1175.0,975.3 1177.8,984.2 1187.1,984.2 1179.6,989.6 1182.5,998.5 1175.0,993.0 1167.4,998.5 1170.3,989.6 1162.8,984.2 1172.1,984.2"/>
<polygon points="1180.0,967.8 1182.9,976.7 1192.2,976.7 1184.7,982.1 1187.5,991.0 1180.0,985.5 1172.5,991.0 1175.4,982.1 1167.8,976.7 1177.1,976.7"/>
<polygon points="1185.1,979.7 1188.0,988.5 1197.3,988.5 1189.7,994.0 1192.6,1002.8 1185.1,997.4 1177.6,1002.8 1180.4,994.0 1172.9,988.5 1182.2,988.5"/>
<polygon points="1190.2,979.0 1193.0,987.8 1202.3,987.8 1194.8,993.3 1197.7,1002.1 1190.2,996.7 1182.6,1002.1 1185.5,993.3 1178.0,987.8 1187.3,987.8"/>
<polygon points="1195.2,982.4 1198.1,991.2 1207.4,991.2 1199.9,996.7 1202.8,1005.5 1195.2,1000.1 1187.7,1005.5 1190.6,996.7 1183.1,991.2 1192.4,991.2"/>
<polygon points="1200.3,972.3 1203.2,981.2 1212.5,981.2 1204.9,986.6 1207.8,995.5 1200.3,990.0 1192.8,995.5 1195.6,986.6 1188.1,981.2 1197.4,981.2"/>
<polygon points="1205.4,981.5 1208.2,990.4 1217.5,990.4 1210.0,995.9 1212.9,1004.7 1205.4,999.2 1197.8,1004.7 1200.7,995.9 1193.2,990.4 1202.5,990.4"/>
<polygon points="1210.4,972.3 1213.3,981.1 1222.6,981.1 1215.1,986.6 1218.0,995.4 1210.4,990.0 1202.9,995.4 1205.8,986.6 1198.3,981.1 1207.6,981.1"/>
<polygon points="1215.5,982.2 1218.4,991.0 1227.7,991.0 1220.2,996.5 1223.0,1005.4 1215.5,999.9 1208.0,1005.4 1210.9,996.5 1203.3,991.0 1212.6,991.0"/>
<polygon points="1220.6,977.5 1223.4,986.4 1232.7,986.4 1225.2,991.8 1228.1,1000.7 1220.6,995.2 1213.1,1000.7 1215.9,991.8 1208.4,986.4 1217.7,986.4"/>
<polygon points="1225.6,977.8 1228.5,986.7 1237.8,986.7 1230.3,992.1 1233.2,1001.0 1225.6,995.5 1218.1,1001.0 1221.0,992.1 1213.5,986.7 1222.8,986.7"/>
<polygon points="1230.7,988.2 1233.6,997.0 1242.9,997.0 1235.4,1002.5 1238.2,1011.4 1230.7,1005.9 1223.2,1011.4 1226.1,1002.5 1218.5,997.0 1227.8,997.0"/>
<polygon points="1235.8,977.2 1238.7,986.0 1248.0,986.0 1240.4,991.5 1243.3,1000.3 1235.8,994.8 1228.3,1000.3 1231.1,991.5 1223.6,986.0 1232.9,986.0"/>
<polygon points="1240.9,983.9 1243.7,992.7 1253.0,992.7 1245.5,998.2 1248.4,1007.0 1240.9,1001.6 1233.3,1007.0 1236.2,998.2 1228.7,992.7 1238.0,992.7"/>
<polygon points="1245.9,989.4 1248.8,998.2 1258.1,998.2 1250.6,1003.7 1253.4,1012.5 1245.9,1007.1 1238.4,1012.5 1241.3,1003.7 1233.7,998.2 1243.0,998.2"/>
<polygon points="1251.0,980.7 1253.9,989.6 1263.2,989.6 1255.6,995.0 1258.5,1003.9 1251.0,998.4 1243.5,1003.9 1246.3,995.0 1238.8,989.6 1248.1,989.6"/>
<polygon points="1256.1,980.7 1258.9,989.6 1268.2,989.6 1260.7,995.0 1263.6,1003.9 1256.1,998.4 1248.5,1003.9 1251.4,995.0 1243.9,989.6 1253.2,989.6"/>
<polygon points="1261.1,991.3 1264.0,1000.1 1273.3,1000.1 1265.8,1005.6 1268.7,1014.4 1261.1,1008.9 1253.6,1014.4 1256.5,1005.6 1249.0,1000.1 1258.3,1000.1"/>
<polygon points="1266.2,984.9 1269.1,993.7 1278.4,993.7 1270.8,999.2 1273.7,1008.0 1266.2,1002.6 1258.7,1008.0 1261.5,999.2 1254.0,993.7 1263.3,993.7"/>
<polygon points="1271.3,989.8 1274.1,998.6 1283.4,998.6 1275.9,1004.1 1278.8,1012.9 1271.3,1007.5 1263.7,1012.9 1266.6,1004.1 1259.1,998.6 1268.4,998.6"/>
<polygon points="1276.3,980.0 1279.2,988.9 1288.5,988.9 1281.0,994.3 1283.9,1003.2 1276.3,997.7 1268.8,1003.2 1271.7,994.3 1264.2,988.9 1273.5,988.9"/>
<polygon points="1281.6,962.0 1284.5,970.8 1293.8,970.8 1286.3,976.3 1289.1,985.2 1281.6,979.7 1274.1,985.2 1276.9,976.3 1269.4,970.8 1278.7,970.8"/>
<polygon points="1286.5,985.1 1289.3,994.0 1298.6,994.0 1291.1,999.4 1294.0,1008.3 1286.5,1002.8 1278.9,1008.3 1281.8,999.4 1274.3,994.0 1283.6,994.0"/>
<polygon points="1291.5,982.3 1294.4,991.1 1303.7,991.1 1296.2,996.6 1299.1,1005.4 1291.5,1000.0 1284.0,1005.4 1286.9,996.6 1279.4,991.1 1288.7,991.1"/>
<polygon points="1296.6,989.8 1299.5,998.6 1308.8,998.6 1301.3,1004.1 1304.1,1012.9 1296.6,1007.5 1289.1,1012.9 1292.0,1004.1 1284.4,998.6 1293.7,998.6"/>
<polygon points="1301.7,980.9 1304.6,989.8 1313.9,989.8 1306.3,995.3 1309.2,1004.1 1301.7,998.6 1294.2,1004.1 1297.0,995.3 1289.5,989.8 1298.8,989.8"/>
<polygon points="1306.7,994.0 1309.6,1002.9 1318.9,1002.9 1311.4,1008.3 1314.3,1017.2 1306.7,1011.7 1299.2,1017.2 1302.1,1008.3 1294.6,1002.9 1303.9,1002.9"/>
<polygon points="1311.8,980.1 1314.7,988.9 1324.0,988.9 1316.5,994.4 1319.3,1003.2 1311.8,997.8 1304.3,1003.2 1307.2,994.4 1299.6,988.9 1308.9,988.9"/>
<polygon points="1316.9,990.6 1319.8,999.5 1329.1,999.5 1321.5,1005.0 1324.4,1013.8 1316.9,1008.3 1309.4,1013.8 1312.2,1005.0 1304.7,999.5 1314.0,999.5"/>
<polygon points="1322.0,980.0 1324.8,988.9 1334.1,988.9 1326.6,994.3 1329.5,1003.2 1322.0,997.7 1314.4,1003.2 1317.3,994.3 1309.8,988.9 1319.1,988.9"/>
<polygon points="1327.0,983.5 1329.9,992.4 1339.2,992.4 1331.7,997.8 1334.5,1006.7 1327.0,1001.2 1319.5,1006.7 1322.4,997.8 1314.9,992.4 1324.1,992.4"/>
<polygon points="1332.1,991.7 1335.0,1000.6 1344.3,1000.6 1336.7,1006.0 1339.6,1014.9 1332.1,1009.4 1324.6,1014.9 1327.4,1006.0 1319.9,1000.6 1329.2,1000.6"/>
<polygon points="1337.2,981.5 1340.0,990.3 1349.3,990.3 1341.8,995.8 1344.7,1004.6 1337.2,999.2 1329.6,1004.6 1332.5,995.8 1325.0,990.3 1334.3,990.3"/>
<polygon points="1342.2,981.5 1345.1,990.3 1354.4,990.3 1346.9,995.8 1349.8,1004.6 1342.2,999.2 1334.7,1004.6 1337.6,995.8 1330.1,990.3 1339.4,990.3"/>
<polygon points="1347.3,988.7 1350.2,997.5 1359.5,997.5 1352.0,1003.0 1354.8,1011.8 1347.3,1006.4 1339.8,1011.8 1342.6,1003.0 1335.1,997.5 1344.4,997.5"/>
<polygon points="1352.4,983.7 1355.2,992.5 1364.5,992.5 1357.0,998.0 1359.9,1006.8 1352.4,1001.4 1344.8,1006.8 1347.7,998.0 1340.2,992.5 1349.5,992.5"/>
<polygon points="1357.4,978.2 1360.3,987.0 1369.6,987.0 1362.1,992.5 1365.0,1001.3 1357.4,995.8 1349.9,1001.3 1352.8,992.5 1345.3,987.0 1354.6,987.0"/>
<polygon points="1362.5,991.9 1365.4,1000.8 1374.7,1000.8 1367.2,1006.3 1370.0,1015.1 1362.5,1009.6 1355.0,1015.1 1357.9,1006.3 1350.3,1000.8 1359.6,1000.8"/>
<polygon points="1367.6,979.0 1370.5,987.8 1379.7,987.8 1372.2,993.3 1375.1,1002.1 1367.6,996.7 1360.1,1002.1 1362.9,993.3 1355.4,987.8 1364.7,987.8"/>
<polygon points="1372.6,976.8 1375.5,985.7 1384.8,985.7 1377.3,991.1 1380.2,1000.0 1372.6,994.5 1365.1,1000.0 1368.0,991.1 1360.5,985.7 1369.8,985.7"/>
<polygon points="1377.7,981.0 1380.6,989.9 1389.9,989.9 1382.4,995.4 1385.2,1004.2 1377.7,998.7 1370.2,1004.2 1373.1,995.4 1365.5,989.9 1374.8,989.9"/>
<polygon points="1382.8,984.9 1385.7,993.7 1395.0,993.7 1387.4,999.2 1390.3,1008.0 1382.8,1002.6 1375.3,1008.0 1378.1,999.2 1370.6,993.7 1379.9,993.7"/>
<polygon points="1387.9,986.7 1390.7,995.5 1400.0,995.5 1392.5,1001.0 1395.4,1009.8 1387.9,1004.3 1380.3,1009.8 1383.2,1001.0 1375.7,995.5 1385.0,995.5"/>
<polygon points="1392.9,977.1 1395.8,985.9 1405.1,985.9 1397.6,991.4 1400.4,1000.3 1392.9,994.8 1385.4,1000.3 1388.3,991.4 1380.7,985.9 1390.0,985.9"/>
<polygon points="1398.0,980.3 1400.9,989.2 1410.2,989.2 1402.6,994.7 1405.5,1003.5 1398.0,998.0 1390.5,1003.5 1393.3,994.7 1385.8,989.2 1395.1,989.2"/>
<polygon points="1403.1,975.6 1405.9,984.5 1415.2,984.5 1407.7,989.9 1410.6,998.8 1403.1,993.3 1395.5,998.8 1398.4,989.9 1390.9,984.5 1400.2,984.5"/>
<polygon points="1408.1,981.8 1411.0,990.6 1420.3,990.6 1412.8,996.1 1415.7,1004.9 1408.1,999.5 1400.6,1004.9 1403.5,996.1 1396.0,990.6 1405.3,990.6"/>
<polygon points="1413.2,986.4 1416.1,995.3 1425.4,995.3 1417.8,1000.7 1420.7,1009.6 1413.2,1004.1 1405.7,1009.6 1408.5,1000.7 1401.0,995.3 1410.3,995.3"/>
<polygon points="1418.3,985.9 1421.1,994.8 1430.4,994.8 1422.9,1000.2 1425.8,1009.1 1418.3,1003.6 1410.7,1009.1 1413.6,1000.2 1406.1,994.8 1415.4,994.8"/>
<polygon points="1424.0,985.0 1426.9,993.8 1436.2,993.8 1428.7,999.3 1431.5,1008.2 1424.0,1002.7 1416.5,1008.2 1419.3,999.3 1411.8,993.8 1421.1,993.8"/>
</g>
<g fill="#ff00ff" stroke="#a000aa" stroke-width="2.4" stroke-linejoin="round">
<rect x="311.3" y="1596.6" width="23.4" height="23.4"/>
<rect x="316.2" y="1638.3" width="23.4" height="23.4"/>
<rect x="321.4" y="1676.4" width="23.4" height="23.4"/>
<rect x="326.6" y="1704.1" width="23.4" height="23.4"/>
<rect x="331.9" y="1728.0" width="23.4" height="23.4"/>
<rect x="337.1" y="1745.3" width="23.4" height="23.4"/>
<rect x="342.3" y="1786.4" width="23.4" height="23.4"/>
<rect x="347.6" y="1780.7" width="23.4" height="23.4"/>
<rect x="352.6" y="1821.8" width="23.4" height="23.4"/>
<rect x="358.1" y="1809.3" width="23.4" height="23.4"/>
<rect x="363.3" y="1819.9" width="23.4" height="23.4"/>
<rect x="368.3" y="1830.4" width="23.4" height="23.4"/>
<rect x="373.4" y="1839.0" width="23.4" height="23.4"/>
<rect x="378.2" y="1851.4" width="23.4" height="23.4"/>
<rect x="384.0" y="1861.0" width="23.4" height="23.4"/>
<rect x="388.7" y="1868.7" width="23.4" height="23.4"/>
<rect x="393.5" y="1874.4" width="23.4" height="23.4"/>
<rect x="399.3" y="1882.1" width="23.4" height="23.4"/>
<rect x="404.0" y="1889.7" width="23.4" height="23.4"/>
<rect x="408.8" y="1895.4" width="23.4" height="23.4"/>
<rect x="414.6" y="1900.3" width="23.4" height="23.4"/>
<rect x="420.3" y="1906.9" width="23.4" height="23.4"/>
<rect x="425.1" y="1911.7" width="23.4" height="23.4"/>
<rect x="429.9" y="1916.5" width="23.4" height="23.4"/>
<rect x="435.6" y="1920.3" width="23.4" height="23.4"/>
<rect x="441.3" y="1924.1" width="23.4" height="23.4"/>
<rect x="447.1" y="1928.0" width="23.4" height="23.4"/>
<rect x="452.8" y="1931.8" width="23.4" height="23.4"/>
<rect x="458.6" y="1935.6" width="23.4" height="23.4"/>
<rect x="461.2" y="1934.9" width="23.4" height="23.4"/>
<rect x="466.4" y="1938.8" width="23.4" height="23.4"/>
<rect x="472.0" y="1939.4" width="23.4" height="23.4"/>
<rect x="476.7" y="1941.9" width="23.4" height="23.4"/>
<rect x="482.5" y="1926.1" width="23.4" height="23.4"/>
<rect x="487.0" y="1945.7" width="23.4" height="23.4"/>
<rect x="491.1" y="1947.1" width="23.4" height="23.4"/>
<rect x="497.4" y="1947.9" width="23.4" height="23.4"/>
<rect x="502.6" y="1950.9" width="23.4" height="23.4"/>
<rect x="507.7" y="1946.6" width="23.4" height="23.4"/>
<rect x="512.9" y="1947.1" width="23.4" height="23.4"/>
<rect x="518.1" y="1952.8" width="23.4" height="23.4"/>
<rect x="523.2" y="1950.1" width="23.4" height="23.4"/>
<rect x="528.4" y="1950.7" width="23.4" height="23.4"/>
<rect x="533.6" y="1956.0" width="23.4" height="23.4"/>
<rect x="538.7" y="1956.3" width="23.4" height="23.4"/>
<rect x="543.9" y="1963.3" width="23.4" height="23.4"/>
<rect x="549.1" y="1965.4" width="23.4" height="23.4"/>
<rect x="554.2" y="1967.9" width="23.4" height="23.4"/>
<rect x="559.4" y="1966.5" width="23.4" height="23.4"/>
<rect x="564.6" y="1971.0" width="23.4" height="23.4"/>
<rect x="569.8" y="1973.9" width="23.4" height="23.4"/>
<rect x="574.9" y="1973.4" width="23.4" height="23.4"/>
<rect x="580.1" y="1976.1" width="23.4" height="23.4"/>
<rect x="585.3" y="1976.7" width="23.4" height="23.4"/>
<rect x="590.4" y="1974.1" width="23.4" height="23.4"/>
<rect x="595.6" y="1979.3" width="23.4" height="23.4"/>
<rect x="600.8" y="1979.3" width="23.4" height="23.4"/>
<rect x="605.9" y="1978.6" width="23.4" height="23.4"/>
<rect x="611.1" y="1978.4" width="23.4" height="23.4"/>
<rect x="615.1" y="1997.3" width="23.4" height="23.4"/>
<rect x="621.4" y="1986.9" width="23.4" height="23.4"/>
<rect x="626.6" y="1986.2" width="23.4" height="23.4"/>
<rect x="631.8" y="1989.4" width="23.4" height="23.4"/>
<rect x="636.9" y="1992.1" width="23.4" height="23.4"/>
<rect x="642.1" y="1993.0" width="23.4" height="23.4"/>
<rect x="647.3" y="1996.1" width="23.4" height="23.4"/>
<rect x="652.5" y="1994.9" width="23.4" height="23.4"/>
<rect x="657.6" y="1999.2" width="23.4" height="23.4"/>
<rect x="662.8" y="1998.9" width="23.4" height="23.4"/>
<rect x="668.0" y="2003.8" width="23.4" height="23.4"/>
<rect x="673.1" y="2003.9" width="23.4" height="23.4"/>
<rect x="678.3" y="1999.6" width="23.4" height="23.4"/>
<rect x="683.5" y="2000.1" width="23.4" height="23.4"/>
<rect x="688.6" y="2001.0" width="23.4" height="23.4"/>
<rect x="693.8" y="2005.8" width="23.4" height="23.4"/>
<rect x="699.0" y="2002.9" width="23.4" height="23.4"/>
<rect x="704.1" y="2003.7" width="23.4" height="23.4"/>
<rect x="709.3" y="2001.4" width="23.4" height="23.4"/>
<rect x="714.5" y="2002.3" width="23.4" height="23.4"/>
<rect x="719.7" y="2001.2" width="23.4" height="23.4"/>
<rect x="724.8" y="2000.6" width="23.4" height="23.4"/>
<rect x="730.0" y="2002.4" width="23.4" height="23.4"/>
<rect x="735.2" y="2004.2" width="23.4" height="23.4"/>
<rect x="740.3" y="2007.9" width="23.4" height="23.4"/>
<rect x="745.5" y="2008.4" width="23.4" height="23.4"/>
<rect x="750.7" y="2011.2" width="23.4" height="23.4"/>
<rect x="755.8" y="2011.6" width="23.4" height="23.4"/>
<rect x="761.0" y="2013.2" width="23.4" height="23.4"/>
<rect x="766.2" y="2012.0" width="23.4" height="23.4"/>
<rect x="771.3" y="2009.8" width="23.4" height="23.4"/>
<rect x="776.5" y="2014.6" width="23.4" height="23.4"/>
<rect x="781.7" y="2015.8" width="23.4" height="23.4"/>
<rect x="786.8" y="2016.2" width="23.4" height="23.4"/>
<rect x="792.0" y="2015.0" width="23.4" height="23.4"/>
<rect x="797.2" y="2016.2" width="23.4" height="23.4"/>
<rect x="802.4" y="2014.4" width="23.4" height="23.4"/>
<rect x="807.5" y="2017.6" width="23.4" height="23.4"/>
<rect x="812.7" y="2017.0" width="23.4" height="23.4"/>
<rect x="817.9" y="2016.4" width="23.4" height="23.4"/>
<rect x="823.0" y="2016.2" width="23.4" height="23.4"/>
<rect x="828.2" y="2019.5" width="23.4" height="23.4"/>
<rect x="833.4" y="2020.2" width="23.4" height="23.4"/>
<rect x="838.5" y="2018.0" width="23.4" height="23.4"/>
<rect x="843.7" y="2020.3" width="23.4" height="23.4"/>
<rect x="848.9" y="2019.8" width="23.4" height="23.4"/>
<rect x="854.0" y="2019.6" width="23.4" height="23.4"/>
<rect x="859.2" y="2020.3" width="23.4" height="23.4"/>
<rect x="864.4" y="2021.9" width="23.4" height="23.4"/>
<rect x="869.6" y="2022.6" width="23.4" height="23.4"/>
<rect x="874.7" y="2021.1" width="23.4" height="23.4"/>
<rect x="879.9" y="2022.9" width="23.4" height="23.4"/>
<rect x="885.1" y="2022.1" width="23.4" height="23.4"/>
<rect x="890.2" y="2024.2" width="23.4" height="23.4"/>
<rect x="895.4" y="2023.8" width="23.4" height="23.4"/>
<rect x="900.6" y="2025.7" width="23.4" height="23.4"/>
<rect x="905.7" y="2026.4" width="23.4" height="23.4"/>
<rect x="910.9" y="2025.8" width="23.4" height="23.4"/>
<rect x="916.1" y="2027.5" width="23.4" height="23.4"/>
<rect x="921.2" y="2026.4" width="23.4" height="23.4"/>
<rect x="926.4" y="2026.4" width="23.4" height="23.4"/>
<rect x="931.6" y="2028.1" width="23.4" height="23.4"/>
<rect x="936.7" y="2027.3" width="23.4" height="23.4"/>
<rect x="941.9" y="2028.2" width="23.4" height="23.4"/>
<rect x="947.1" y="2029.3" width="23.4" height="23.4"/>
<rect x="952.3" y="2030.3" width="23.4" height="23.4"/>
<rect x="957.4" y="2029.7" width="23.4" height="23.4"/>
<rect x="962.6" y="2030.0" width="23.4" height="23.4"/>
<rect x="967.8" y="2032.5" width="23.4" height="23.4"/>
<rect x="972.9" y="2031.7" width="23.4" height="23.4"/>
<rect x="978.1" y="2033.6" width="23.4" height="23.4"/>
<rect x="983.3" y="2033.9" width="23.4" height="23.4"/>
<rect x="988.4" y="2033.0" width="23.4" height="23.4"/>
<rect x="993.6" y="2033.6" width="23.4" height="23.4"/>
<rect x="998.8" y="2034.1" width="23.4" height="23.4"/>
<rect x="1003.9" y="2034.8" width="23.4" height="23.4"/>
<rect x="1009.1" y="2035.1" width="23.4" height="23.4"/>
<rect x="1014.3" y="2035.4" width="23.4" height="23.4"/>
<rect x="1019.5" y="2035.9" width="23.4" height="23.4"/>
<rect x="1024.6" y="2037.1" width="23.4" height="23.4"/>
<rect x="1029.8" y="2036.4" width="23.4" height="23.4"/>
<rect x="1035.0" y="2036.6" width="23.4" height="23.4"/>
<rect x="1040.1" y="2037.7" width="23.4" height="23.4"/>
<rect x="1045.3" y="2036.9" width="23.4" height="23.4"/>
<rect x="1050.5" y="2037.4" width="23.4" height="23.4"/>
<rect x="1055.6" y="2039.5" width="23.4" height="23.4"/>
<rect x="1060.8" y="2038.7" width="23.4" height="23.4"/>
<rect x="1066.0" y="2039.2" width="23.4" height="23.4"/>
<rect x="1071.1" y="2038.3" width="23.4" height="23.4"/>
<rect x="1076.3" y="2039.6" width="23.4" height="23.4"/>
<rect x="1081.5" y="2040.4" width="23.4" height="23.4"/>
<rect x="1086.6" y="2039.3" width="23.4" height="23.4"/>
<rect x="1091.8" y="2041.1" width="23.4" height="23.4"/>
<rect x="1097.0" y="2041.4" width="23.4" height="23.4"/>
<rect x="1102.2" y="2040.4" width="23.4" height="23.4"/>
<rect x="1107.3" y="2042.0" width="23.4" height="23.4"/>
<rect x="1112.5" y="2041.9" width="23.4" height="23.4"/>
<rect x="1117.7" y="2042.8" width="23.4" height="23.4"/>
<rect x="1122.8" y="2042.3" width="23.4" height="23.4"/>
<rect x="1128.0" y="2043.4" width="23.4" height="23.4"/>
<rect x="1133.2" y="2043.8" width="23.4" height="23.4"/>
<rect x="1138.3" y="2042.4" width="23.4" height="23.4"/>
<rect x="1143.5" y="2042.8" width="23.4" height="23.4"/>
<rect x="1148.7" y="2044.6" width="23.4" height="23.4"/>
<rect x="1153.8" y="2045.6" width="23.4" height="23.4"/>
<rect x="1159.0" y="2044.2" width="23.4" height="23.4"/>
<rect x="1164.2" y="2045.0" width="23.4" height="23.4"/>
<rect x="1169.4" y="2045.6" width="23.4" height="23.4"/>
<rect x="1174.5" y="2045.3" width="23.4" height="23.4"/>
<rect x="1179.7" y="2045.7" width="23.4" height="23.4"/>
<rect x="1184.9" y="2045.8" width="23.4" height="23.4"/>
<rect x="1190.0" y="2046.2" width="23.4" height="23.4"/>
<rect x="1195.2" y="2047.0" width="23.4" height="23.4"/>
<rect x="1200.4" y="2046.5" width="23.4" height="23.4"/>
<rect x="1205.5" y="2047.0" width="23.4" height="23.4"/>
<rect x="1210.7" y="2048.2" width="23.4" height="23.4"/>
<rect x="1215.9" y="2046.6" width="23.4" height="23.4"/>
<rect x="1221.0" y="2048.2" width="23.4" height="23.4"/>
<rect x="1226.2" y="2048.8" width="23.4" height="23.4"/>
<rect x="1231.4" y="2048.1" width="23.4" height="23.4"/>
<rect x="1236.6" y="2048.1" width="23.4" height="23.4"/>
<rect x="1241.7" y="2049.8" width="23.4" height="23.4"/>
<rect x="1246.9" y="2048.7" width="23.4" height="23.4"/>
<rect x="1252.1" y="2048.8" width="23.4" height="23.4"/>
<rect x="1257.2" y="2049.6" width="23.4" height="23.4"/>
<rect x="1262.4" y="2050.5" width="23.4" height="23.4"/>
<rect x="1267.6" y="2049.3" width="23.4" height="23.4"/>
<rect x="1272.7" y="2050.1" width="23.4" height="23.4"/>
<rect x="1277.9" y="2050.4" width="23.4" height="23.4"/>
<rect x="1283.1" y="2051.8" width="23.4" height="23.4"/>
<rect x="1288.2" y="2051.1" width="23.4" height="23.4"/>
<rect x="1293.4" y="2052.3" width="23.4" height="23.4"/>
<rect x="1298.6" y="2050.8" width="23.4" height="23.4"/>
<rect x="1303.7" y="2051.4" width="23.4" height="23.4"/>
<rect x="1308.9" y="2052.3" width="23.4" height="23.4"/>
<rect x="1314.1" y="2053.0" width="23.4" height="23.4"/>
<rect x="1319.3" y="2052.1" width="23.4" height="23.4"/>
<rect x="1324.4" y="2051.7" width="23.4" height="23.4"/>
<rect x="1329.6" y="2051.6" width="23.4" height="23.4"/>
<rect x="1334.8" y="2052.7" width="23.4" height="23.4"/>
<rect x="1339.9" y="2052.1" width="23.4" height="23.4"/>
<rect x="1345.1" y="2053.7" width="23.4" height="23.4"/>
<rect x="1350.3" y="2053.9" width="23.4" height="23.4"/>
<rect x="1355.4" y="2052.5" width="23.4" height="23.4"/>
<rect x="1360.6" y="2052.9" width="23.4" height="23.4"/>
<rect x="1365.8" y="2054.3" width="23.4" height="23.4"/>
<rect x="1370.9" y="2054.0" width="23.4" height="23.4"/>
<rect x="1376.1" y="2054.6" width="23.4" height="23.4"/>
<rect x="1381.3" y="2053.6" width="23.4" height="23.4"/>
<rect x="1386.5" y="2053.3" width="23.4" height="23.4"/>
<rect x="1391.6" y="2053.8" width="23.4" height="23.4"/>
<rect x="1396.8" y="2055.3" width="23.4" height="23.4"/>
<rect x="1402.0" y="2054.3" width="23.4" height="23.4"/>
<rect x="1407.1" y="2054.7" width="23.4" height="23.4"/>
<rect x="1412.3" y="2055.1" width="23.4" height="23.4"/>
<rect x="1417.5" y="2055.4" width="23.4" height="23.4"/>
<rect x="1422.6" y="2055.6" width="23.4" height="23.4"/>
<rect x="1427.8" y="2057.1" width="23.4" height="23.4"/>
<rect x="1433.0" y="2055.5" width="23.4" height="23.4"/>
<rect x="1438.1" y="2055.4" width="23.4" height="23.4"/>
<rect x="1443.3" y="2057.9" width="23.4" height="23.4"/>
<rect x="1448.5" y="2058.0" width="23.4" height="23.4"/>
<rect x="1453.6" y="2058.5" width="23.4" height="23.4"/>
<rect x="1458.8" y="2057.4" width="23.4" height="23.4"/>
<rect x="1464.0" y="2058.9" width="23.4" height="23.4"/>
<rect x="1469.2" y="2059.1" width="23.4" height="23.4"/>
<rect x="1474.3" y="2057.6" width="23.4" height="23.4"/>
<rect x="1479.5" y="2059.1" width="23.4" height="23.4"/>
<rect x="1484.7" y="2059.6" width="23.4" height="23.4"/>
<rect x="1489.8" y="2059.4" width="23.4" height="23.4"/>
<rect x="1495.0" y="2059.3" width="23.4" height="23.4"/>
<rect x="1500.2" y="2058.8" width="23.4" height="23.4"/>
<rect x="1505.3" y="2059.0" width="23.4" height="23.4"/>
<rect x="1510.5" y="2058.8" width="23.4" height="23.4"/>
<rect x="1515.7" y="2058.5" width="23.4" height="23.4"/>
<rect x="1520.8" y="2059.8" width="23.4" height="23.4"/>
<rect x="1526.0" y="2059.1" width="23.4" height="23.4"/>
<rect x="1531.2" y="2060.4" width="23.4" height="23.4"/>
<rect x="1536.4" y="2058.6" width="23.4" height="23.4"/>
<rect x="1541.5" y="2060.7" width="23.4" height="23.4"/>
<rect x="1546.7" y="2060.3" width="23.4" height="23.4"/>
<rect x="1551.9" y="2060.9" width="23.4" height="23.4"/>
<rect x="1557.0" y="2060.9" width="23.4" height="23.4"/>
<rect x="1562.2" y="2060.9" width="23.4" height="23.4"/>
<rect x="1567.4" y="2060.2" width="23.4" height="23.4"/>
<rect x="1572.5" y="2058.9" width="23.4" height="23.4"/>
<rect x="1577.7" y="2060.7" width="23.4" height="23.4"/>
<rect x="1582.9" y="2059.4" width="23.4" height="23.4"/>
<rect x="1588.0" y="2059.7" width="23.4" height="23.4"/>
<rect x="1593.2" y="2060.6" width="23.4" height="23.4"/>
<rect x="1598.4" y="2060.4" width="23.4" height="23.4"/>
<rect x="1603.5" y="2060.3" width="23.4" height="23.4"/>
<rect x="1608.7" y="2061.8" width="23.4" height="23.4"/>
<rect x="1613.9" y="2061.2" width="23.4" height="23.4"/>
<rect x="1619.1" y="2060.7" width="23.4" height="23.4"/>
<rect x="1624.2" y="2060.7" width="23.4" height="23.4"/>
<rect x="1629.4" y="2062.4" width="23.4" height="23.4"/>
<rect x="1634.6" y="2061.7" width="23.4" height="23.4"/>
<rect x="1639.7" y="2062.6" width="23.4" height="23.4"/>
<rect x="1644.9" y="2061.8" width="23.4" height="23.4"/>
<rect x="1650.1" y="2061.6" width="23.4" height="23.4"/>
<rect x="1655.2" y="2062.6" width="23.4" height="23.4"/>
<rect x="1660.4" y="2063.5" width="23.4" height="23.4"/>
<rect x="1665.6" y="2062.1" width="23.4" height="23.4"/>
<rect x="1670.7" y="2063.8" width="23.4" height="23.4"/>
<rect x="1675.9" y="2064.3" width="23.4" height="23.4"/>
<rect x="1681.1" y="2064.2" width="23.4" height="23.4"/>
<rect x="1686.3" y="2064.5" width="23.4" height="23.4"/>
<rect x="1691.4" y="2062.7" width="23.4" height="23.4"/>
<rect x="1696.6" y="2064.4" width="23.4" height="23.4"/>
<rect x="1701.8" y="2065.2" width="23.4" height="23.4"/>
<rect x="1706.9" y="2063.5" width="23.4" height="23.4"/>
<rect x="1712.1" y="2064.2" width="23.4" height="23.4"/>
<rect x="1717.3" y="2064.4" width="23.4" height="23.4"/>
<rect x="1722.4" y="2065.3" width="23.4" height="23.4"/>
<rect x="1727.6" y="2065.2" width="23.4" height="23.4"/>
<rect x="1732.8" y="2065.6" width="23.4" height="23.4"/>
<rect x="1737.9" y="2066.5" width="23.4" height="23.4"/>
<rect x="1743.1" y="2064.9" width="23.4" height="23.4"/>
<rect x="1748.3" y="2065.2" width="23.4" height="23.4"/>
<rect x="1753.5" y="2065.6" width="23.4" height="23.4"/>
<rect x="1758.6" y="2065.8" width="23.4" height="23.4"/>
<rect x="1763.8" y="2065.9" width="23.4" height="23.4"/>
<rect x="1769.0" y="2068.3" width="23.4" height="23.4"/>
<rect x="1774.1" y="2068.3" width="23.4" height="23.4"/>
<rect x="1779.3" y="2066.6" width="23.4" height="23.4"/>
<rect x="1784.5" y="2067.8" width="23.4" height="23.4"/>
</g>
<g fill="#00ff00" stroke="#009600" stroke-width="2.5" stroke-linejoin="round">
<polygon points="323.0,1897.5 325.9,1906.3 335.2,1906.3 327.7,1911.8 330.5,1920.7 323.0,1915.2 315.5,1920.7 318.3,1911.8 310.8,1906.3 320.1,1906.3"/>
<polygon points="328.0,1924.6 330.9,1933.4 340.2,1933.4 332.7,1938.9 335.5,1947.8 328.0,1942.3 320.5,1947.8 323.3,1938.9 315.8,1933.4 325.1,1933.4"/>
<polygon points="333.5,1949.5 336.4,1958.3 345.7,1958.3 338.2,1963.8 341.0,1972.7 333.5,1967.2 326.0,1972.7 328.8,1963.8 321.3,1958.3 330.6,1958.3"/>
<polygon points="338.3,1970.8 341.2,1979.6 350.5,1979.6 343.0,1985.1 345.8,1994.0 338.3,1988.5 330.8,1994.0 333.6,1985.1 326.1,1979.6 335.4,1979.6"/>
<polygon points="344.0,1988.4 346.9,1997.2 356.2,1997.2 348.7,2002.7 351.5,2011.6 344.0,2006.1 336.5,2011.6 339.3,2002.7 331.8,1997.2 341.1,1997.2"/>
<polygon points="349.4,2007.5 352.3,2016.3 361.6,2016.3 354.1,2021.8 356.9,2030.7 349.4,2025.2 341.9,2030.7 344.7,2021.8 337.2,2016.3 346.5,2016.3"/>
<polygon points="354.2,2017.1 357.1,2025.9 366.4,2025.9 358.9,2031.4 361.7,2040.3 354.2,2034.8 346.7,2040.3 349.5,2031.4 342.0,2025.9 351.3,2025.9"/>
<polygon points="360.6,2029.8 363.5,2038.6 372.8,2038.6 365.3,2044.1 368.1,2053.0 360.6,2047.5 353.1,2053.0 355.9,2044.1 348.4,2038.6 357.7,2038.6"/>
<polygon points="367.0,2039.4 369.9,2048.2 379.2,2048.2 371.7,2053.7 374.5,2062.6 367.0,2057.1 359.5,2062.6 362.3,2053.7 354.8,2048.2 364.1,2048.2"/>
<polygon points="375.0,2053.7 377.9,2062.5 387.2,2062.5 379.7,2068.0 382.5,2076.9 375.0,2071.4 367.5,2076.9 370.3,2068.0 362.8,2062.5 372.1,2062.5"/>
<polygon points="382.9,2066.5 385.8,2075.3 395.1,2075.3 387.6,2080.8 390.4,2089.7 382.9,2084.2 375.4,2089.7 378.2,2080.8 370.7,2075.3 380.0,2075.3"/>
<polygon points="392.5,2079.2 395.4,2088.0 404.7,2088.0 397.2,2093.5 400.0,2102.4 392.5,2096.9 385.0,2102.4 387.8,2093.5 380.3,2088.0 389.6,2088.0"/>
<polygon points="399.1,2092.1 402.0,2100.9 411.3,2100.9 403.8,2106.4 406.6,2115.3 399.1,2109.8 391.6,2115.3 394.4,2106.4 386.9,2100.9 396.2,2100.9"/>
<polygon points="400.4,2092.0 403.3,2100.8 412.6,2100.8 405.1,2106.3 407.9,2115.2 400.4,2109.7 392.9,2115.2 395.7,2106.3 388.2,2100.8 397.5,2100.8"/>
<polygon points="405.2,2114.3 408.1,2123.1 417.4,2123.1 409.9,2128.6 412.7,2137.5 405.2,2132.0 397.7,2137.5 400.5,2128.6 393.0,2123.1 402.3,2123.1"/>
<polygon points="412.5,2111.2 415.4,2120.0 424.7,2120.0 417.2,2125.5 420.0,2134.4 412.5,2128.9 405.0,2134.4 407.8,2125.5 400.3,2120.0 409.6,2120.0"/>
<polygon points="416.0,2111.5 418.9,2120.3 428.2,2120.3 420.7,2125.8 423.6,2134.7 416.0,2129.2 408.5,2134.7 411.4,2125.8 403.9,2120.3 413.2,2120.3"/>
<polygon points="421.2,2114.3 424.1,2123.2 433.4,2123.2 425.9,2128.6 428.7,2137.5 421.2,2132.0 413.7,2137.5 416.6,2128.6 409.0,2123.2 418.3,2123.2"/>
<polygon points="426.0,2120.7 428.9,2129.5 438.2,2129.5 430.7,2135.0 433.5,2143.9 426.0,2138.4 418.5,2143.9 421.3,2135.0 413.8,2129.5 423.1,2129.5"/>
<polygon points="430.7,2138.2 433.6,2147.0 442.9,2147.0 435.4,2152.5 438.2,2161.4 430.7,2155.9 423.2,2161.4 426.0,2152.5 418.5,2147.0 427.8,2147.0"/>
<polygon points="435.5,2141.8 438.4,2150.6 447.7,2150.6 440.2,2156.1 443.0,2165.0 435.5,2159.5 428.0,2165.0 430.8,2156.1 423.3,2150.6 432.6,2150.6"/>
<polygon points="441.9,2140.8 444.8,2149.6 454.1,2149.6 446.5,2155.1 449.4,2163.9 441.9,2158.5 434.4,2163.9 437.2,2155.1 429.7,2149.6 439.0,2149.6"/>
<polygon points="447.1,2140.9 449.9,2149.7 459.2,2149.7 451.7,2155.2 454.6,2164.0 447.1,2158.6 439.5,2164.0 442.4,2155.2 434.9,2149.7 444.2,2149.7"/>
<polygon points="452.2,2142.8 455.1,2151.7 464.4,2151.7 456.9,2157.1 459.7,2166.0 452.2,2160.5 444.7,2166.0 447.6,2157.1 440.1,2151.7 449.4,2151.7"/>
<polygon points="456.3,2147.8 459.2,2156.6 468.5,2156.6 461.0,2162.1 463.8,2171.0 456.3,2165.5 448.8,2171.0 451.6,2162.1 444.1,2156.6 453.4,2156.6"/>
<polygon points="462.6,2153.4 465.4,2162.2 474.7,2162.2 467.2,2167.7 470.1,2176.5 462.6,2171.1 455.0,2176.5 457.9,2167.7 450.4,2162.2 459.7,2162.2"/>
<polygon points="465.8,2170.2 468.7,2179.0 478.0,2179.0 470.5,2184.5 473.3,2193.4 465.8,2187.9 458.3,2193.4 461.1,2184.5 453.6,2179.0 462.9,2179.0"/>
<polygon points="472.2,2159.0 475.1,2167.8 484.4,2167.8 476.9,2173.3 479.7,2182.2 472.2,2176.7 464.7,2182.2 467.5,2173.3 460.0,2167.8 469.3,2167.8"/>
<polygon points="478.6,2184.5 481.5,2193.3 490.8,2193.3 483.3,2198.8 486.1,2207.7 478.6,2202.2 471.1,2207.7 473.9,2198.8 466.4,2193.3 475.7,2193.3"/>
<polygon points="483.2,2174.7 486.1,2183.6 495.4,2183.6 487.9,2189.0 490.8,2197.9 483.2,2192.4 475.7,2197.9 478.6,2189.0 471.1,2183.6 480.4,2183.6"/>
<polygon points="488.4,2177.5 491.3,2186.4 500.6,2186.4 493.1,2191.8 495.9,2200.7 488.4,2195.2 480.9,2200.7 483.8,2191.8 476.2,2186.4 485.5,2186.4"/>
<polygon points="493.6,2180.1 496.5,2188.9 505.8,2188.9 498.2,2194.4 501.1,2203.2 493.6,2197.7 486.1,2203.2 488.9,2194.4 481.4,2188.9 490.7,2188.9"/>
<polygon points="497.7,2171.7 500.6,2180.5 509.9,2180.5 502.4,2186.0 505.2,2194.9 497.7,2189.4 490.2,2194.9 493.0,2186.0 485.5,2180.5 494.8,2180.5"/>
<polygon points="503.9,2178.4 506.8,2187.2 516.1,2187.2 508.6,2192.7 511.4,2201.5 503.9,2196.0 496.4,2201.5 499.3,2192.7 491.7,2187.2 501.0,2187.2"/>
<polygon points="507.3,2182.9 510.2,2191.7 519.5,2191.7 512.0,2197.2 514.8,2206.1 507.3,2200.6 499.8,2206.1 502.6,2197.2 495.1,2191.7 504.4,2191.7"/>
<polygon points="507.3,2205.2 510.2,2214.0 519.5,2214.0 512.0,2219.5 514.8,2228.4 507.3,2222.9 499.8,2228.4 502.6,2219.5 495.1,2214.0 504.4,2214.0"/>
<polygon points="514.3,2187.6 517.1,2196.4 526.4,2196.4 518.9,2201.9 521.8,2210.7 514.3,2205.3 506.7,2210.7 509.6,2201.9 502.1,2196.4 511.4,2196.4"/>
<polygon points="520.0,2190.9 522.9,2199.7 532.2,2199.7 524.7,2205.2 527.5,2214.1 520.0,2208.6 512.5,2214.1 515.3,2205.2 507.8,2199.7 517.1,2199.7"/>
<polygon points="524.6,2192.1 527.5,2201.0 536.8,2201.0 529.2,2206.4 532.1,2215.3 524.6,2209.8 517.1,2215.3 519.9,2206.4 512.4,2201.0 521.7,2201.0"/>
<polygon points="529.6,2200.4 532.5,2209.2 541.8,2209.2 534.3,2214.7 537.1,2223.6 529.6,2218.1 522.1,2223.6 524.9,2214.7 517.4,2209.2 526.7,2209.2"/>
<polygon points="534.9,2199.2 537.8,2208.1 547.1,2208.1 539.6,2213.5 542.5,2222.4 534.9,2216.9 527.4,2222.4 530.3,2213.5 522.8,2208.1 532.1,2208.1"/>
<polygon points="540.1,2201.5 543.0,2210.4 552.3,2210.4 544.7,2215.8 547.6,2224.7 540.1,2219.2 532.6,2224.7 535.4,2215.8 527.9,2210.4 537.2,2210.4"/>
<polygon points="545.3,2205.9 548.1,2214.8 557.4,2214.8 549.9,2220.2 552.8,2229.1 545.3,2223.6 537.7,2229.1 540.6,2220.2 533.1,2214.8 542.4,2214.8"/>
<polygon points="550.3,2212.6 553.2,2221.4 562.5,2221.4 555.0,2226.9 557.8,2235.8 550.3,2230.3 542.8,2235.8 545.6,2226.9 538.1,2221.4 547.4,2221.4"/>
<polygon points="555.1,2211.6 558.0,2220.4 567.3,2220.4 559.8,2225.9 562.6,2234.8 555.1,2229.3 547.6,2234.8 550.4,2225.9 542.9,2220.4 552.2,2220.4"/>
<polygon points="555.1,2230.7 558.0,2239.5 567.3,2239.5 559.8,2245.0 562.6,2253.9 555.1,2248.4 547.6,2253.9 550.4,2245.0 542.9,2239.5 552.2,2239.5"/>
<polygon points="559.8,2210.7 562.7,2219.5 572.0,2219.5 564.5,2225.0 567.3,2233.9 559.8,2228.4 552.3,2233.9 555.1,2225.0 547.6,2219.5 556.9,2219.5"/>
<polygon points="565.9,2223.4 568.8,2232.2 578.1,2232.2 570.6,2237.7 573.5,2246.6 565.9,2241.1 558.4,2246.6 561.3,2237.7 553.8,2232.2 563.1,2232.2"/>
<polygon points="571.3,2218.3 574.2,2227.1 583.5,2227.1 576.0,2232.6 578.8,2241.5 571.3,2236.0 563.8,2241.5 566.6,2232.6 559.1,2227.1 568.4,2227.1"/>
<polygon points="576.3,2226.9 579.2,2235.8 588.5,2235.8 580.9,2241.2 583.8,2250.1 576.3,2244.6 568.8,2250.1 571.6,2241.2 564.1,2235.8 573.4,2235.8"/>
<polygon points="579.0,2250.9 581.9,2259.7 591.2,2259.7 583.7,2265.2 586.5,2274.1 579.0,2268.6 571.5,2274.1 574.3,2265.2 566.8,2259.7 576.1,2259.7"/>
<polygon points="580.6,2246.7 583.5,2255.5 592.8,2255.5 585.3,2261.0 588.1,2269.9 580.6,2264.4 573.1,2269.9 575.9,2261.0 568.4,2255.5 577.7,2255.5"/>
<polygon points="583.8,2224.3 586.7,2233.1 596.0,2233.1 588.5,2238.6 591.3,2247.5 583.8,2242.0 576.3,2247.5 579.1,2238.6 571.6,2233.1 580.9,2233.1"/>
<polygon points="586.6,2226.0 589.5,2234.8 598.8,2234.8 591.3,2240.3 594.1,2249.2 586.6,2243.7 579.1,2249.2 581.9,2240.3 574.4,2234.8 583.7,2234.8"/>
<polygon points="591.8,2234.5 594.7,2243.3 604.0,2243.4 596.4,2248.8 599.3,2257.7 591.8,2252.2 584.3,2257.7 587.1,2248.8 579.6,2243.4 588.9,2243.3"/>
<polygon points="596.6,2233.9 599.5,2242.7 608.8,2242.7 601.3,2248.2 604.1,2257.1 596.6,2251.6 589.1,2257.1 591.9,2248.2 584.4,2242.7 593.7,2242.7"/>
<polygon points="602.1,2238.0 605.0,2246.9 614.3,2246.9 606.8,2252.4 609.6,2261.2 602.1,2255.7 594.6,2261.2 597.5,2252.4 590.0,2246.9 599.3,2246.9"/>
<polygon points="607.7,2229.8 610.6,2238.6 619.9,2238.6 612.4,2244.1 615.2,2253.0 607.7,2247.5 600.2,2253.0 603.0,2244.1 595.5,2238.6 604.8,2238.6"/>
<polygon points="612.5,2234.5 615.3,2243.4 624.6,2243.4 617.1,2248.8 620.0,2257.7 612.5,2252.2 604.9,2257.7 607.8,2248.8 600.3,2243.4 609.6,2243.4"/>
<polygon points="617.6,2238.0 620.5,2246.8 629.8,2246.8 622.3,2252.3 625.2,2261.1 617.6,2255.7 610.1,2261.1 613.0,2252.3 605.5,2246.8 614.8,2246.8"/>
<polygon points="622.0,2243.5 624.9,2252.3 634.2,2252.3 626.7,2257.8 629.5,2266.7 622.0,2261.2 614.5,2266.7 617.3,2257.8 609.8,2252.3 619.1,2252.3"/>
<polygon points="628.0,2245.6 630.8,2254.5 640.1,2254.5 632.6,2259.9 635.5,2268.8 628.0,2263.3 620.4,2268.8 623.3,2259.9 615.8,2254.5 625.1,2254.5"/>
<polygon points="632.5,2260.4 635.4,2269.2 644.7,2269.2 637.2,2274.7 640.0,2283.6 632.5,2278.1 625.0,2283.6 627.8,2274.7 620.3,2269.2 629.6,2269.2"/>
<polygon points="638.3,2250.0 641.2,2258.8 650.5,2258.8 643.0,2264.3 645.8,2273.1 638.3,2267.7 630.8,2273.1 633.7,2264.3 626.1,2258.8 635.4,2258.8"/>
<polygon points="642.8,2235.5 645.7,2244.3 655.0,2244.3 647.5,2249.8 650.3,2258.7 642.8,2253.2 635.3,2258.7 638.1,2249.8 630.6,2244.3 639.9,2244.3"/>
<polygon points="648.8,2268.4 651.7,2277.2 661.0,2277.2 653.5,2282.7 656.3,2291.6 648.8,2286.1 641.3,2291.6 644.1,2282.7 636.6,2277.2 645.9,2277.2"/>
<polygon points="653.8,2258.2 656.7,2267.0 666.0,2267.0 658.5,2272.5 661.3,2281.3 653.8,2275.8 646.3,2281.3 649.2,2272.5 641.6,2267.0 650.9,2267.0"/>
<polygon points="660.3,2256.2 663.2,2265.0 672.5,2265.0 665.0,2270.5 667.8,2279.4 660.3,2273.9 652.8,2279.4 655.6,2270.5 648.1,2265.0 657.4,2265.0"/>
<polygon points="664.2,2263.8 667.0,2272.7 676.3,2272.7 668.8,2278.1 671.7,2287.0 664.2,2281.5 656.6,2287.0 659.5,2278.1 652.0,2272.7 661.3,2272.7"/>
<polygon points="670.8,2266.2 673.7,2275.0 683.0,2275.0 675.5,2280.5 678.3,2289.4 670.8,2283.9 663.3,2289.4 666.1,2280.5 658.6,2275.0 667.9,2275.0"/>
<polygon points="675.2,2272.8 678.1,2281.6 687.4,2281.6 679.9,2287.1 682.7,2296.0 675.2,2290.5 667.7,2296.0 670.5,2287.1 663.0,2281.6 672.3,2281.6"/>
<polygon points="679.7,2262.1 682.5,2270.9 691.8,2270.9 684.3,2276.4 687.2,2285.2 679.7,2279.8 672.1,2285.2 675.0,2276.4 667.5,2270.9 676.8,2270.9"/>
<polygon points="684.8,2270.9 687.7,2279.7 697.0,2279.7 689.5,2285.2 692.4,2294.0 684.8,2288.6 677.3,2294.0 680.2,2285.2 672.7,2279.7 682.0,2279.7"/>
<polygon points="689.9,2268.4 692.8,2277.2 702.1,2277.2 694.6,2282.7 697.4,2291.6 689.9,2286.1 682.4,2291.6 685.2,2282.7 677.7,2277.2 687.0,2277.2"/>
<polygon points="695.2,2278.1 698.0,2287.0 707.3,2287.0 699.8,2292.4 702.7,2301.3 695.2,2295.8 687.6,2301.3 690.5,2292.4 683.0,2287.0 692.3,2287.0"/>
<polygon points="700.3,2280.0 703.2,2288.9 712.5,2288.9 705.0,2294.3 707.9,2303.2 700.3,2297.7 692.8,2303.2 695.7,2294.3 688.2,2288.9 697.5,2288.9"/>
<polygon points="706.0,2283.1 708.9,2291.9 718.2,2291.9 710.7,2297.4 713.5,2306.3 706.0,2300.8 698.5,2306.3 701.3,2297.4 693.8,2291.9 703.1,2291.9"/>
<polygon points="710.4,2299.2 713.3,2308.0 722.6,2308.0 715.1,2313.5 717.9,2322.4 710.4,2316.9 702.9,2322.4 705.7,2313.5 698.2,2308.0 707.5,2308.0"/>
<polygon points="715.8,2286.3 718.7,2295.1 728.0,2295.1 720.5,2300.6 723.4,2309.4 715.8,2303.9 708.3,2309.4 711.2,2300.6 703.7,2295.1 713.0,2295.1"/>
<polygon points="721.0,2292.4 723.9,2301.2 733.2,2301.2 725.7,2306.7 728.5,2315.5 721.0,2310.1 713.5,2315.5 716.4,2306.7 708.8,2301.2 718.1,2301.2"/>
<polygon points="726.5,2321.2 729.4,2330.0 738.7,2330.0 731.2,2335.5 734.0,2344.4 726.5,2338.9 719.0,2344.4 721.8,2335.5 714.3,2330.0 723.6,2330.0"/>
<polygon points="733.9,2290.4 736.8,2299.2 746.1,2299.2 738.6,2304.7 741.4,2313.6 733.9,2308.1 726.4,2313.6 729.2,2304.7 721.7,2299.2 731.0,2299.2"/>
<polygon points="736.5,2294.4 739.4,2303.3 748.7,2303.3 741.2,2308.8 744.0,2317.6 736.5,2312.1 729.0,2317.6 731.9,2308.8 724.3,2303.3 733.6,2303.3"/>
<polygon points="742.7,2278.7 745.6,2287.5 754.9,2287.5 747.4,2293.0 750.2,2301.9 742.7,2296.4 735.2,2301.9 738.0,2293.0 730.5,2287.5 739.8,2287.5"/>
<polygon points="746.9,2308.0 749.7,2316.9 759.0,2316.9 751.5,2322.3 754.4,2331.2 746.9,2325.7 739.3,2331.2 742.2,2322.3 734.7,2316.9 744.0,2316.9"/>
<polygon points="752.0,2308.9 754.9,2317.8 764.2,2317.8 756.7,2323.2 759.6,2332.1 752.0,2326.6 744.5,2332.1 747.4,2323.2 739.9,2317.8 749.2,2317.8"/>
<polygon points="757.3,2310.9 760.2,2319.7 769.5,2319.7 762.0,2325.2 764.8,2334.1 757.3,2328.6 749.8,2334.1 752.6,2325.2 745.1,2319.7 754.4,2319.7"/>
<polygon points="762.4,2308.7 765.2,2317.6 774.5,2317.6 767.0,2323.0 769.9,2331.9 762.4,2326.4 754.8,2331.9 757.7,2323.0 750.2,2317.6 759.5,2317.6"/>
<polygon points="767.5,2307.8 770.4,2316.7 779.7,2316.7 772.2,2322.1 775.1,2331.0 767.5,2325.5 760.0,2331.0 762.9,2322.1 755.4,2316.7 764.7,2316.7"/>
<polygon points="772.0,2300.7 774.9,2309.5 784.2,2309.5 776.7,2315.0 779.5,2323.9 772.0,2318.4 764.5,2323.9 767.3,2315.0 759.8,2309.5 769.1,2309.5"/>
<polygon points="777.9,2319.3 780.7,2328.1 790.0,2328.1 782.5,2333.6 785.4,2342.4 777.9,2336.9 770.3,2342.4 773.2,2333.6 765.7,2328.1 775.0,2328.1"/>
<polygon points="783.7,2313.9 786.6,2322.7 795.9,2322.7 788.4,2328.2 791.2,2337.1 783.7,2331.6 776.2,2337.1 779.0,2328.2 771.5,2322.7 780.8,2322.7"/>
<polygon points="788.1,2331.5 791.0,2340.3 800.3,2340.3 792.8,2345.8 795.6,2354.7 788.1,2349.2 780.6,2354.7 783.4,2345.8 775.9,2340.3 785.2,2340.3"/>
<polygon points="794.0,2346.2 796.9,2355.0 806.2,2355.0 798.7,2360.5 801.5,2369.4 794.0,2363.9 786.5,2369.4 789.3,2360.5 781.8,2355.0 791.1,2355.0"/>
<polygon points="799.9,2309.5 802.8,2318.3 812.1,2318.3 804.6,2323.8 807.4,2332.7 799.9,2327.2 792.4,2332.7 795.2,2323.8 787.7,2318.3 797.0,2318.3"/>
<polygon points="803.7,2329.3 806.6,2338.2 815.9,2338.2 808.4,2343.6 811.2,2352.5 803.7,2347.0 796.2,2352.5 799.1,2343.6 791.5,2338.2 800.8,2338.2"/>
<polygon points="808.9,2334.7 811.8,2343.6 821.1,2343.6 813.5,2349.1 816.4,2357.9 808.9,2352.4 801.4,2357.9 804.2,2349.1 796.7,2343.6 806.0,2343.6"/>
<polygon points="813.0,2349.1 815.9,2357.9 825.2,2357.9 817.7,2363.4 820.5,2372.3 813.0,2366.8 805.5,2372.3 808.3,2363.4 800.8,2357.9 810.1,2357.9"/>
<polygon points="818.9,2325.6 821.8,2334.4 831.1,2334.4 823.6,2339.9 826.4,2348.8 818.9,2343.3 811.4,2348.8 814.2,2339.9 806.7,2334.4 816.0,2334.4"/>
<polygon points="824.4,2339.5 827.3,2348.4 836.6,2348.4 829.0,2353.8 831.9,2362.7 824.4,2357.2 816.9,2362.7 819.7,2353.8 812.2,2348.4 821.5,2348.4"/>
<polygon points="829.2,2346.2 832.1,2355.0 841.4,2355.0 833.9,2360.5 836.7,2369.4 829.2,2363.9 821.7,2369.4 824.5,2360.5 817.0,2355.0 826.3,2355.0"/>
<polygon points="833.6,2337.3 836.5,2346.1 845.8,2346.1 838.3,2351.6 841.1,2360.5 833.6,2355.0 826.1,2360.5 828.9,2351.6 821.4,2346.1 830.7,2346.1"/>
<polygon points="839.9,2341.3 842.8,2350.1 852.1,2350.1 844.6,2355.6 847.4,2364.4 839.9,2359.0 832.4,2364.4 835.2,2355.6 827.7,2350.1 837.0,2350.1"/>
<polygon points="845.1,2342.2 847.9,2351.0 857.2,2351.0 849.7,2356.5 852.6,2365.4 845.1,2359.9 837.5,2365.4 840.4,2356.5 832.9,2351.0 842.2,2351.0"/>
<polygon points="850.2,2346.5 853.1,2355.3 862.4,2355.3 854.9,2360.8 857.8,2369.6 850.2,2364.2 842.7,2369.6 845.6,2360.8 838.1,2355.3 847.4,2355.3"/>
<polygon points="855.4,2346.5 858.3,2355.4 867.6,2355.4 860.1,2360.8 862.9,2369.7 855.4,2364.2 847.9,2369.7 850.8,2360.8 843.2,2355.4 852.5,2355.4"/>
<polygon points="858.5,2363.7 861.4,2372.5 870.7,2372.5 863.2,2378.0 866.0,2386.9 858.5,2381.4 851.0,2386.9 853.8,2378.0 846.3,2372.5 855.6,2372.5"/>
<polygon points="865.9,2343.2 868.8,2352.0 878.1,2352.0 870.6,2357.5 873.4,2366.4 865.9,2360.9 858.4,2366.4 861.2,2357.5 853.7,2352.0 863.0,2352.0"/>
<polygon points="870.9,2348.0 873.8,2356.9 883.1,2356.9 875.6,2362.4 878.4,2371.2 870.9,2365.7 863.4,2371.2 866.3,2362.4 858.7,2356.9 868.0,2356.9"/>
<polygon points="876.1,2351.2 879.0,2360.0 888.3,2360.0 880.7,2365.5 883.6,2374.3 876.1,2368.8 868.6,2374.3 871.4,2365.5 863.9,2360.0 873.2,2360.0"/>
<polygon points="880.5,2372.5 883.4,2381.3 892.7,2381.3 885.2,2386.8 888.0,2395.7 880.5,2390.2 873.0,2395.7 875.8,2386.8 868.3,2381.3 877.6,2381.3"/>
<polygon points="886.4,2327.1 889.3,2335.9 898.6,2335.9 891.1,2341.4 893.9,2350.3 886.4,2344.8 878.9,2350.3 881.7,2341.4 874.2,2335.9 883.5,2335.9"/>
<polygon points="890.8,2352.0 893.7,2360.8 903.0,2360.8 895.5,2366.3 898.3,2375.2 890.8,2369.7 883.3,2375.2 886.1,2366.3 878.6,2360.8 887.9,2360.8"/>
<polygon points="896.8,2362.1 899.6,2370.9 908.9,2370.9 901.4,2376.4 904.3,2385.2 896.8,2379.8 889.2,2385.2 892.1,2376.4 884.6,2370.9 893.9,2370.9"/>
<polygon points="901.9,2353.7 904.8,2362.6 914.1,2362.6 906.6,2368.0 909.5,2376.9 901.9,2371.4 894.4,2376.9 897.3,2368.0 889.8,2362.6 899.1,2362.6"/>
<polygon points="907.1,2354.6 910.0,2363.4 919.3,2363.4 911.7,2368.9 914.6,2377.8 907.1,2372.3 899.6,2377.8 902.4,2368.9 894.9,2363.4 904.2,2363.4"/>
<polygon points="912.8,2372.5 915.7,2381.3 925.0,2381.3 917.5,2386.8 920.3,2395.7 912.8,2390.2 905.3,2395.7 908.1,2386.8 900.6,2381.3 909.9,2381.3"/>
<polygon points="917.4,2363.3 920.3,2372.1 929.6,2372.1 922.1,2377.6 925.0,2386.4 917.4,2381.0 909.9,2386.4 912.8,2377.6 905.3,2372.1 914.6,2372.1"/>
<polygon points="921.6,2352.0 924.5,2360.8 933.8,2360.8 926.3,2366.3 929.1,2375.2 921.6,2369.7 914.1,2375.2 916.9,2366.3 909.4,2360.8 918.7,2360.8"/>
<polygon points="929.0,2384.2 931.9,2393.0 941.2,2393.0 933.7,2398.5 936.5,2407.4 929.0,2401.9 921.5,2407.4 924.3,2398.5 916.8,2393.0 926.1,2393.0"/>
<polygon points="932.9,2359.6 935.8,2368.4 945.1,2368.4 937.6,2373.9 940.5,2382.7 932.9,2377.3 925.4,2382.7 928.3,2373.9 920.8,2368.4 930.1,2368.4"/>
<polygon points="938.1,2362.6 941.0,2371.5 950.3,2371.5 942.8,2376.9 945.6,2385.8 938.1,2380.3 930.6,2385.8 933.5,2376.9 925.9,2371.5 935.2,2371.5"/>
<polygon points="943.6,2347.6 946.5,2356.4 955.8,2356.4 948.3,2361.9 951.1,2370.8 943.6,2365.3 936.1,2370.8 938.9,2361.9 931.4,2356.4 940.7,2356.4"/>
<polygon points="951.0,2369.6 953.9,2378.4 963.2,2378.4 955.7,2383.9 958.5,2392.8 951.0,2387.3 943.5,2392.8 946.3,2383.9 938.8,2378.4 948.1,2378.4"/>
<polygon points="953.6,2362.4 956.5,2371.2 965.8,2371.2 958.3,2376.7 961.1,2385.5 953.6,2380.1 946.1,2385.5 949.0,2376.7 941.4,2371.2 950.7,2371.2"/>
<polygon points="959.7,2350.5 962.6,2359.3 971.9,2359.3 964.4,2364.8 967.2,2373.7 959.7,2368.2 952.2,2373.7 955.0,2364.8 947.5,2359.3 956.8,2359.3"/>
<polygon points="964.0,2362.3 966.8,2371.2 976.1,2371.2 968.6,2376.6 971.5,2385.5 964.0,2380.0 956.4,2385.5 959.3,2376.6 951.8,2371.2 961.1,2371.2"/>
<polygon points="969.1,2370.9 972.0,2379.7 981.3,2379.7 973.8,2385.2 976.6,2394.1 969.1,2388.6 961.6,2394.1 964.5,2385.2 957.0,2379.7 966.3,2379.7"/>
<polygon points="974.3,2362.0 977.2,2370.9 986.5,2370.9 978.9,2376.3 981.8,2385.2 974.3,2379.7 966.8,2385.2 969.6,2376.3 962.1,2370.9 971.4,2370.9"/>
<polygon points="979.5,2365.4 982.3,2374.2 991.6,2374.2 984.1,2379.7 987.0,2388.5 979.5,2383.1 971.9,2388.5 974.8,2379.7 967.3,2374.2 976.6,2374.2"/>
<polygon points="984.7,2360.8 987.6,2369.6 996.9,2369.6 989.4,2375.1 992.2,2384.0 984.7,2378.5 977.2,2384.0 980.0,2375.1 972.5,2369.6 981.8,2369.6"/>
<polygon points="989.8,2365.6 992.7,2374.4 1002.0,2374.4 994.5,2379.9 997.3,2388.7 989.8,2383.2 982.3,2388.7 985.2,2379.9 977.6,2374.4 986.9,2374.4"/>
<polygon points="995.0,2372.8 997.8,2381.6 1007.1,2381.6 999.6,2387.1 1002.5,2395.9 995.0,2390.5 987.4,2395.9 990.3,2387.1 982.8,2381.6 992.1,2381.6"/>
<polygon points="1000.1,2370.6 1003.0,2379.4 1012.3,2379.4 1004.8,2384.9 1007.7,2393.7 1000.1,2388.3 992.6,2393.7 995.5,2384.9 988.0,2379.4 997.3,2379.4"/>
<polygon points="1003.7,2372.5 1006.6,2381.3 1015.9,2381.3 1008.4,2386.8 1011.2,2395.7 1003.7,2390.2 996.2,2395.7 999.0,2386.8 991.5,2381.3 1000.8,2381.3"/>
<polygon points="1010.5,2375.5 1013.4,2384.4 1022.7,2384.4 1015.1,2389.9 1018.0,2398.7 1010.5,2393.2 1003.0,2398.7 1005.8,2389.9 998.3,2384.4 1007.6,2384.4"/>
<polygon points="1015.5,2401.9 1018.4,2410.7 1027.7,2410.7 1020.2,2416.2 1023.0,2425.1 1015.5,2419.6 1008.0,2425.1 1010.8,2416.2 1003.3,2410.7 1012.6,2410.7"/>
<polygon points="1020.8,2382.0 1023.7,2390.8 1033.0,2390.8 1025.5,2396.3 1028.3,2405.1 1020.8,2399.7 1013.3,2405.1 1016.2,2396.3 1008.6,2390.8 1017.9,2390.8"/>
<polygon points="1027.2,2413.6 1030.1,2422.4 1039.4,2422.4 1031.9,2427.9 1034.7,2436.8 1027.2,2431.3 1019.7,2436.8 1022.5,2427.9 1015.0,2422.4 1024.3,2422.4"/>
<polygon points="1031.2,2378.6 1034.0,2387.4 1043.3,2387.4 1035.8,2392.9 1038.7,2401.7 1031.2,2396.3 1023.6,2401.7 1026.5,2392.9 1019.0,2387.4 1028.3,2387.4"/>
<polygon points="1036.0,2366.7 1038.9,2375.5 1048.2,2375.5 1040.7,2381.0 1043.5,2389.9 1036.0,2384.4 1028.5,2389.9 1031.3,2381.0 1023.8,2375.5 1033.1,2375.5"/>
<polygon points="1041.5,2383.5 1044.4,2392.3 1053.7,2392.3 1046.1,2397.8 1049.0,2406.7 1041.5,2401.2 1034.0,2406.7 1036.8,2397.8 1029.3,2392.3 1038.6,2392.3"/>
<polygon points="1044.8,2381.3 1047.7,2390.1 1057.0,2390.1 1049.5,2395.6 1052.3,2404.5 1044.8,2399.0 1037.3,2404.5 1040.1,2395.6 1032.6,2390.1 1041.9,2390.1"/>
<polygon points="1050.7,2416.5 1053.6,2425.3 1062.9,2425.3 1055.4,2430.8 1058.2,2439.7 1050.7,2434.2 1043.2,2439.7 1046.0,2430.8 1038.5,2425.3 1047.8,2425.3"/>
<polygon points="1057.0,2393.9 1059.9,2402.7 1069.2,2402.7 1061.6,2408.2 1064.5,2417.0 1057.0,2411.5 1049.5,2417.0 1052.3,2408.2 1044.8,2402.7 1054.1,2402.7"/>
<polygon points="1062.2,2386.3 1065.0,2395.1 1074.3,2395.1 1066.8,2400.6 1069.7,2409.4 1062.2,2404.0 1054.6,2409.4 1057.5,2400.6 1050.0,2395.1 1059.3,2395.1"/>
<polygon points="1065.3,2393.1 1068.2,2401.9 1077.5,2401.9 1070.0,2407.4 1072.8,2416.3 1065.3,2410.8 1057.8,2416.3 1060.6,2407.4 1053.1,2401.9 1062.4,2401.9"/>
<polygon points="1072.5,2388.4 1075.4,2397.3 1084.7,2397.3 1077.2,2402.8 1080.0,2411.6 1072.5,2406.1 1065.0,2411.6 1067.9,2402.8 1060.3,2397.3 1069.6,2397.3"/>
<polygon points="1077.7,2391.5 1080.5,2400.3 1089.8,2400.3 1082.3,2405.8 1085.2,2414.6 1077.7,2409.2 1070.2,2414.6 1073.0,2405.8 1065.5,2400.3 1074.8,2400.3"/>
<polygon points="1082.8,2399.0 1085.7,2407.8 1095.0,2407.8 1087.5,2413.3 1090.4,2422.1 1082.8,2416.6 1075.3,2422.1 1078.2,2413.3 1070.7,2407.8 1080.0,2407.8"/>
<polygon points="1088.8,2393.1 1091.7,2401.9 1101.0,2401.9 1093.5,2407.4 1096.3,2416.3 1088.8,2410.8 1081.3,2416.3 1084.1,2407.4 1076.6,2401.9 1085.9,2401.9"/>
<polygon points="1093.5,2429.2 1096.4,2438.0 1105.7,2438.0 1098.2,2443.5 1101.0,2452.4 1093.5,2446.9 1086.0,2452.4 1088.8,2443.5 1081.3,2438.0 1090.6,2438.0"/>
<polygon points="1098.3,2400.7 1101.2,2409.5 1110.5,2409.5 1103.0,2415.0 1105.9,2423.8 1098.3,2418.4 1090.8,2423.8 1093.7,2415.0 1086.2,2409.5 1095.5,2409.5"/>
<polygon points="1103.5,2397.4 1106.4,2406.3 1115.7,2406.3 1108.2,2411.7 1111.0,2420.6 1103.5,2415.1 1096.0,2420.6 1098.9,2411.7 1091.3,2406.3 1100.6,2406.3"/>
<polygon points="1109.4,2394.2 1112.3,2403.0 1121.6,2403.0 1114.1,2408.5 1116.9,2417.4 1109.4,2411.9 1101.9,2417.4 1104.7,2408.5 1097.2,2403.0 1106.5,2403.0"/>
<polygon points="1113.9,2401.7 1116.7,2410.6 1126.0,2410.6 1118.5,2416.0 1121.4,2424.9 1113.9,2419.4 1106.3,2424.9 1109.2,2416.0 1101.7,2410.6 1111.0,2410.6"/>
<polygon points="1119.0,2401.9 1121.9,2410.8 1131.2,2410.8 1123.7,2416.3 1126.5,2425.1 1119.0,2419.6 1111.5,2425.1 1114.4,2416.3 1106.9,2410.8 1116.2,2410.8"/>
<polygon points="1123.8,2422.9 1126.7,2431.7 1136.0,2431.7 1128.5,2437.2 1131.3,2446.1 1123.8,2440.6 1116.3,2446.1 1119.1,2437.2 1111.6,2431.7 1120.9,2431.7"/>
<polygon points="1129.4,2409.5 1132.2,2418.3 1141.5,2418.3 1134.0,2423.8 1136.9,2432.6 1129.4,2427.1 1121.8,2432.6 1124.7,2423.8 1117.2,2418.3 1126.5,2418.3"/>
<polygon points="1135.0,2406.9 1137.9,2415.7 1147.2,2415.7 1139.7,2421.2 1142.5,2430.1 1135.0,2424.6 1127.5,2430.1 1130.3,2421.2 1122.8,2415.7 1132.1,2415.7"/>
<polygon points="1139.7,2408.0 1142.6,2416.9 1151.9,2416.9 1144.4,2422.3 1147.2,2431.2 1139.7,2425.7 1132.2,2431.2 1135.1,2422.3 1127.5,2416.9 1136.8,2416.9"/>
<polygon points="1144.9,2417.3 1147.7,2426.2 1157.0,2426.2 1149.5,2431.6 1152.4,2440.5 1144.9,2435.0 1137.3,2440.5 1140.2,2431.6 1132.7,2426.2 1142.0,2426.2"/>
<polygon points="1150.0,2421.2 1152.9,2430.0 1162.2,2430.0 1154.7,2435.5 1157.6,2444.3 1150.0,2438.9 1142.5,2444.3 1145.4,2435.5 1137.9,2430.0 1147.2,2430.0"/>
<polygon points="1155.2,2423.3 1158.1,2432.2 1167.4,2432.2 1159.9,2437.6 1162.7,2446.5 1155.2,2441.0 1147.7,2446.5 1150.6,2437.6 1143.0,2432.2 1152.3,2432.2"/>
<polygon points="1162.0,2418.2 1164.9,2427.0 1174.2,2427.0 1166.7,2432.5 1169.5,2441.4 1162.0,2435.9 1154.5,2441.4 1157.3,2432.5 1149.8,2427.0 1159.1,2427.0"/>
<polygon points="1165.5,2422.6 1168.4,2431.4 1177.7,2431.4 1170.2,2436.9 1173.1,2445.7 1165.5,2440.3 1158.0,2445.7 1160.9,2436.9 1153.4,2431.4 1162.7,2431.4"/>
<polygon points="1171.6,2432.2 1174.5,2441.0 1183.8,2441.0 1176.3,2446.5 1179.1,2455.4 1171.6,2449.9 1164.1,2455.4 1166.9,2446.5 1159.4,2441.0 1168.7,2441.0"/>
<polygon points="1175.9,2426.3 1178.8,2435.2 1188.1,2435.2 1180.5,2440.6 1183.4,2449.5 1175.9,2444.0 1168.4,2449.5 1171.2,2440.6 1163.7,2435.2 1173.0,2435.2"/>
<polygon points="1181.1,2415.5 1183.9,2424.4 1193.2,2424.4 1185.7,2429.8 1188.6,2438.7 1181.1,2433.2 1173.5,2438.7 1176.4,2429.8 1168.9,2424.4 1178.2,2424.4"/>
<polygon points="1187.5,2416.5 1190.4,2425.3 1199.7,2425.3 1192.2,2430.8 1195.0,2439.7 1187.5,2434.2 1180.0,2439.7 1182.8,2430.8 1175.3,2425.3 1184.6,2425.3"/>
<polygon points="1191.4,2420.1 1194.3,2428.9 1203.6,2428.9 1196.0,2434.4 1198.9,2443.2 1191.4,2437.7 1183.9,2443.2 1186.7,2434.4 1179.2,2428.9 1188.5,2428.9"/>
<polygon points="1196.6,2429.6 1199.4,2438.5 1208.7,2438.5 1201.2,2443.9 1204.1,2452.8 1196.6,2447.3 1189.0,2452.8 1191.9,2443.9 1184.4,2438.5 1193.7,2438.5"/>
<polygon points="1201.7,2428.8 1204.6,2437.6 1213.9,2437.6 1206.4,2443.1 1209.3,2451.9 1201.7,2446.5 1194.2,2451.9 1197.1,2443.1 1189.6,2437.6 1198.9,2437.6"/>
<polygon points="1206.9,2425.9 1209.8,2434.7 1219.1,2434.7 1211.5,2440.2 1214.4,2449.0 1206.9,2443.5 1199.4,2449.0 1202.2,2440.2 1194.7,2434.7 1204.0,2434.7"/>
<polygon points="1212.1,2433.7 1214.9,2442.5 1224.2,2442.5 1216.7,2448.0 1219.6,2456.9 1212.1,2451.4 1204.5,2456.9 1207.4,2448.0 1199.9,2442.5 1209.2,2442.5"/>
<polygon points="1216.3,2427.6 1219.2,2436.4 1228.5,2436.4 1221.0,2441.9 1223.8,2450.8 1216.3,2445.3 1208.8,2450.8 1211.6,2441.9 1204.1,2436.4 1213.4,2436.4"/>
<polygon points="1222.4,2433.1 1225.3,2442.0 1234.6,2442.0 1227.1,2447.4 1229.9,2456.3 1222.4,2450.8 1214.9,2456.3 1217.8,2447.4 1210.2,2442.0 1219.5,2442.0"/>
<polygon points="1227.6,2437.2 1230.4,2446.1 1239.7,2446.1 1232.2,2451.5 1235.1,2460.4 1227.6,2454.9 1220.1,2460.4 1222.9,2451.5 1215.4,2446.1 1224.7,2446.1"/>
<polygon points="1232.2,2448.4 1235.1,2457.2 1244.4,2457.2 1236.9,2462.7 1239.7,2471.6 1232.2,2466.1 1224.7,2471.6 1227.5,2462.7 1220.0,2457.2 1229.3,2457.2"/>
<polygon points="1237.9,2434.4 1240.8,2443.2 1250.1,2443.2 1242.6,2448.7 1245.4,2457.5 1237.9,2452.0 1230.4,2457.5 1233.3,2448.7 1225.7,2443.2 1235.0,2443.2"/>
<polygon points="1245.0,2432.4 1247.9,2441.2 1257.2,2441.2 1249.7,2446.7 1252.5,2455.6 1245.0,2450.1 1237.5,2455.6 1240.3,2446.7 1232.8,2441.2 1242.1,2441.2"/>
<polygon points="1248.3,2436.6 1251.1,2445.4 1260.4,2445.4 1252.9,2450.9 1255.8,2459.7 1248.3,2454.3 1240.7,2459.7 1243.6,2450.9 1236.1,2445.4 1245.4,2445.4"/>
<polygon points="1253.4,2441.3 1256.3,2450.2 1265.6,2450.2 1258.1,2455.6 1260.9,2464.5 1253.4,2459.0 1245.9,2464.5 1248.8,2455.6 1241.2,2450.2 1250.5,2450.2"/>
<polygon points="1259.3,2467.5 1262.2,2476.3 1271.5,2476.3 1264.0,2481.8 1266.8,2490.7 1259.3,2485.2 1251.8,2490.7 1254.6,2481.8 1247.1,2476.3 1256.4,2476.3"/>
<polygon points="1263.8,2441.1 1266.6,2449.9 1275.9,2449.9 1268.4,2455.4 1271.3,2464.2 1263.8,2458.8 1256.2,2464.2 1259.1,2455.4 1251.6,2449.9 1260.9,2449.9"/>
<polygon points="1268.9,2445.8 1271.8,2454.6 1281.1,2454.6 1273.6,2460.1 1276.5,2468.9 1268.9,2463.4 1261.4,2468.9 1264.3,2460.1 1256.8,2454.6 1266.1,2454.6"/>
<polygon points="1273.6,2437.2 1276.5,2446.0 1285.8,2446.0 1278.3,2451.5 1281.1,2460.4 1273.6,2454.9 1266.1,2460.4 1268.9,2451.5 1261.4,2446.0 1270.7,2446.0"/>
<polygon points="1279.3,2455.9 1282.1,2464.7 1291.4,2464.7 1283.9,2470.2 1286.8,2479.0 1279.3,2473.6 1271.7,2479.0 1274.6,2470.2 1267.1,2464.7 1276.4,2464.7"/>
<polygon points="1284.4,2449.7 1287.3,2458.5 1296.6,2458.5 1289.1,2464.0 1292.0,2472.8 1284.4,2467.4 1276.9,2472.8 1279.8,2464.0 1272.3,2458.5 1281.6,2458.5"/>
<polygon points="1289.6,2470.7 1292.5,2479.5 1301.8,2479.5 1294.3,2485.0 1297.1,2493.9 1289.6,2488.4 1282.1,2493.9 1284.9,2485.0 1277.4,2479.5 1286.7,2479.5"/>
<polygon points="1294.8,2448.6 1297.6,2457.4 1306.9,2457.4 1299.4,2462.9 1302.3,2471.7 1294.8,2466.3 1287.2,2471.7 1290.1,2462.9 1282.6,2457.4 1291.9,2457.4"/>
<polygon points="1299.9,2450.4 1302.8,2459.2 1312.1,2459.2 1304.6,2464.7 1307.5,2473.5 1299.9,2468.1 1292.4,2473.5 1295.3,2464.7 1287.8,2459.2 1297.1,2459.2"/>
<polygon points="1305.5,2453.2 1308.4,2462.0 1317.7,2462.0 1310.2,2467.5 1313.0,2476.4 1305.5,2470.9 1298.0,2476.4 1300.8,2467.5 1293.3,2462.0 1302.6,2462.0"/>
<polygon points="1308.7,2467.5 1311.6,2476.3 1320.9,2476.3 1313.4,2481.8 1316.2,2490.7 1308.7,2485.2 1301.2,2490.7 1304.0,2481.8 1296.5,2476.3 1305.8,2476.3"/>
<polygon points="1315.0,2430.8 1317.9,2439.6 1327.2,2439.6 1319.7,2445.1 1322.5,2454.0 1315.0,2448.5 1307.5,2454.0 1310.3,2445.1 1302.8,2439.6 1312.1,2439.6"/>
<polygon points="1320.6,2452.3 1323.5,2461.2 1332.8,2461.2 1325.3,2466.7 1328.1,2475.5 1320.6,2470.0 1313.1,2475.5 1316.0,2466.7 1308.4,2461.2 1317.7,2461.2"/>
<polygon points="1325.8,2459.4 1328.7,2468.3 1338.0,2468.3 1330.4,2473.7 1333.3,2482.6 1325.8,2477.1 1318.3,2482.6 1321.1,2473.7 1313.6,2468.3 1322.9,2468.3"/>
<polygon points="1331.0,2454.1 1333.8,2462.9 1343.1,2462.9 1335.6,2468.4 1338.5,2477.2 1331.0,2471.8 1323.4,2477.2 1326.3,2468.4 1318.8,2462.9 1328.1,2462.9"/>
<polygon points="1336.1,2452.9 1339.0,2461.7 1348.3,2461.8 1340.8,2467.2 1343.6,2476.1 1336.1,2470.6 1328.6,2476.1 1331.5,2467.2 1324.0,2461.8 1333.2,2461.7"/>
<polygon points="1340.6,2450.0 1343.5,2458.8 1352.8,2458.8 1345.3,2464.3 1348.1,2473.2 1340.6,2467.7 1333.1,2473.2 1335.9,2464.3 1328.4,2458.8 1337.7,2458.8"/>
<polygon points="1346.5,2452.6 1349.3,2461.5 1358.6,2461.5 1351.1,2466.9 1354.0,2475.8 1346.5,2470.3 1338.9,2475.8 1341.8,2466.9 1334.3,2461.5 1343.6,2461.5"/>
<polygon points="1351.6,2465.1 1354.5,2473.9 1363.8,2473.9 1356.3,2479.4 1359.2,2488.2 1351.6,2482.7 1344.1,2488.2 1347.0,2479.4 1339.5,2473.9 1348.8,2473.9"/>
<polygon points="1356.6,2450.0 1359.5,2458.8 1368.8,2458.8 1361.3,2464.3 1364.1,2473.2 1356.6,2467.7 1349.1,2473.2 1351.9,2464.3 1344.4,2458.8 1353.7,2458.8"/>
<polygon points="1363.0,2481.9 1365.9,2490.7 1375.2,2490.7 1367.7,2496.2 1370.5,2505.1 1363.0,2499.6 1355.5,2505.1 1358.3,2496.2 1350.8,2490.7 1360.1,2490.7"/>
<polygon points="1367.1,2461.3 1370.0,2470.1 1379.3,2470.1 1371.8,2475.6 1374.7,2484.4 1367.1,2479.0 1359.6,2484.4 1362.5,2475.6 1355.0,2470.1 1364.3,2470.1"/>
<polygon points="1372.3,2458.7 1375.2,2467.5 1384.5,2467.5 1377.0,2473.0 1379.8,2481.9 1372.3,2476.4 1364.8,2481.9 1367.7,2473.0 1360.1,2467.5 1369.4,2467.5"/>
<polygon points="1377.5,2456.9 1380.4,2465.8 1389.6,2465.8 1382.1,2471.2 1385.0,2480.1 1377.5,2474.6 1370.0,2480.1 1372.8,2471.2 1365.3,2465.8 1374.6,2465.8"/>
<polygon points="1382.0,2457.9 1384.9,2466.7 1394.2,2466.7 1386.7,2472.2 1389.5,2481.1 1382.0,2475.6 1374.5,2481.1 1377.3,2472.2 1369.8,2466.7 1379.1,2466.7"/>
<polygon points="1387.8,2457.3 1390.7,2466.2 1400.0,2466.2 1392.5,2471.7 1395.3,2480.5 1387.8,2475.0 1380.3,2480.5 1383.2,2471.7 1375.6,2466.2 1384.9,2466.2"/>
<polygon points="1393.2,2472.2 1396.1,2481.0 1405.4,2481.0 1397.9,2486.5 1400.7,2495.4 1393.2,2489.9 1385.7,2495.4 1388.5,2486.5 1381.0,2481.0 1390.3,2481.0"/>
<polygon points="1398.0,2453.2 1400.9,2462.0 1410.2,2462.0 1402.7,2467.5 1405.5,2476.4 1398.0,2470.9 1390.5,2476.4 1393.3,2467.5 1385.8,2462.0 1395.1,2462.0"/>
<polygon points="1403.3,2461.4 1406.2,2470.2 1415.5,2470.2 1408.0,2475.7 1410.8,2484.5 1403.3,2479.1 1395.8,2484.5 1398.7,2475.7 1391.1,2470.2 1400.4,2470.2"/>
<polygon points="1410.8,2462.7 1413.7,2471.5 1423.0,2471.5 1415.5,2477.0 1418.3,2485.9 1410.8,2480.4 1403.3,2485.9 1406.1,2477.0 1398.6,2471.5 1407.9,2471.5"/>
<polygon points="1414.0,2485.0 1416.9,2493.8 1426.2,2493.8 1418.7,2499.3 1421.5,2508.2 1414.0,2502.7 1406.5,2508.2 1409.3,2499.3 1401.8,2493.8 1411.1,2493.8"/>
</g>
</svg>
</body></html>
